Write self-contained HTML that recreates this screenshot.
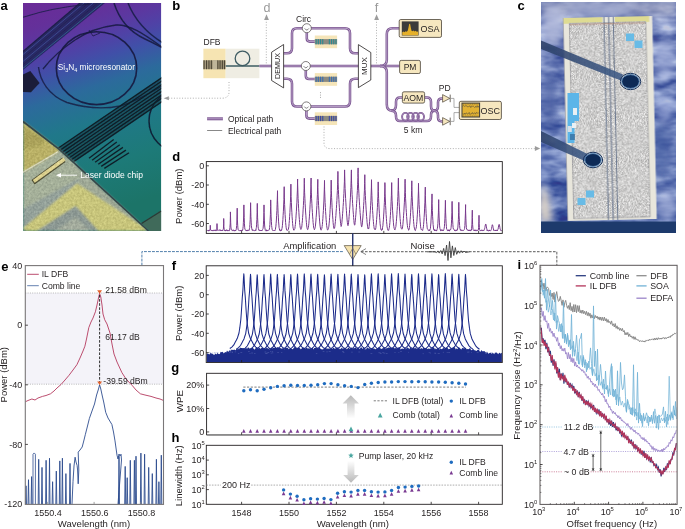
<!DOCTYPE html>
<html><head><meta charset="utf-8"><style>
html,body{margin:0;padding:0;background:#fff;width:685px;height:529px;overflow:hidden}
svg{display:block;font-family:"Liberation Sans",sans-serif}
</style></head><body>
<svg width="685" height="529" viewBox="0 0 685 529">
<defs>
<clipPath id="clipA"><rect x="23" y="3" width="138.3" height="228"/></clipPath>
<linearGradient id="gA" x1="0" y1="0" x2="0.2" y2="1">
 <stop offset="0" stop-color="#6b2b97"/>
 <stop offset="0.12" stop-color="#64309a"/>
 <stop offset="0.2" stop-color="#5b38a0"/>
 <stop offset="0.27" stop-color="#4f42a6"/>
 <stop offset="0.34" stop-color="#4050a8"/>
 <stop offset="0.45" stop-color="#2c6a9c"/>
 <stop offset="0.6" stop-color="#20788a"/>
 <stop offset="0.8" stop-color="#1d7a78"/>
 <stop offset="1" stop-color="#1c7468"/>
</linearGradient>
<filter id="blA" x="-5%" y="-5%" width="110%" height="110%"><feGaussianBlur stdDeviation="0.9"/></filter>
<filter id="blA2"><feGaussianBlur stdDeviation="0.45"/></filter>
<filter id="nzA" x="0" y="0" width="100%" height="100%" color-interpolation-filters="sRGB"><feTurbulence type="fractalNoise" baseFrequency="0.45" numOctaves="2" seed="12"/><feColorMatrix type="matrix" values="1.4 0 0 0 -0.2  1.4 0 0 0 -0.2  1.2 0 0 0 -0.25  0 0 0 0 1"/></filter>
<clipPath id="clipGold"><polygon points="23,121.5 59.3,149.3 148.5,231 23,231"/></clipPath>
<filter id="blA3" x="-20%" y="-20%" width="140%" height="140%"><feGaussianBlur stdDeviation="2.5"/></filter>
</defs>
<g clip-path="url(#clipA)">
<rect x="23.0" y="3.0" width="138.3" height="228.0" fill="url(#gA)" stroke="none" stroke-width="0.8" />
<g filter="url(#blA2)">
<polygon points="80.0,3.0 105.0,3.0 23.0,70.0 23.0,51.0" fill="#20245a" opacity="0.85"/>
<line x1="84.0" y1="3.0" x2="23.0" y2="54.5" stroke="#4a6ab2" stroke-width="0.7" opacity="0.75"/>
<line x1="88.6" y1="3.0" x2="23.0" y2="58.0" stroke="#1c1f48" stroke-width="0.7" opacity="0.75"/>
<line x1="93.2" y1="3.0" x2="23.0" y2="61.4" stroke="#4a6ab2" stroke-width="0.7" opacity="0.75"/>
<line x1="97.8" y1="3.0" x2="23.0" y2="64.8" stroke="#1c1f48" stroke-width="0.7" opacity="0.75"/>
<line x1="102.4" y1="3.0" x2="23.0" y2="68.3" stroke="#3a8aa8" stroke-width="0.7" opacity="0.75"/>
<line x1="80.0" y1="3.0" x2="23.0" y2="51.5" stroke="#1a1d44" stroke-width="1.3" opacity="0.85"/>
<path d="M23,17.3 Q50,8 90,4" stroke="#1c1f4a" stroke-width="1.2" fill="none" opacity="0.85"/>
<ellipse cx="96.5" cy="68.2" rx="40.2" ry="36.4" fill="none" stroke="#15193f" stroke-width="1.6" opacity="0.9"/>
<path d="M114,3 C120,22 132,33 145,39 S158,46 163,48" stroke="#141a40" stroke-width="1.5" fill="none" opacity="0.85"/>
<path d="M128,3 C134,18 145,32 163,43" stroke="#141a40" stroke-width="1.5" fill="none" opacity="0.8"/>
<circle cx="180" cy="121" r="31" fill="none" stroke="#0c1a30" stroke-width="1.5" opacity="0.9"/>
<path d="M43,69 C50,60 60,50 75,40 C88,31 100,27 116,25 C130,24 145,35 162,47" stroke="#15193f" stroke-width="1.4" fill="none" opacity="0.85"/>
<path d="M38.5,67 C40,80 48,95 67,102.5 C85,108 105,109 120,106 C135,102 150,93 162,86" stroke="#15193f" stroke-width="1.4" fill="none" opacity="0.8"/>
<path d="M89,30 L93,36 L100,33" stroke="#15193f" stroke-width="0.9" fill="none" opacity="0.8"/>
<polygon points="23.0,74.4 30.3,71.0 39.6,83.0 31.0,92.3 23.0,92.0" fill="#161a2c" opacity="0.9"/>
<polygon points="58.4,148.0 163.0,76.9 163.0,100.3 73.7,161.6" fill="#102a36" opacity="0.45"/>
<line x1="58.4" y1="148.0" x2="163.0" y2="76.9" stroke="#0e1c26" stroke-width="1.35" />
<line x1="60.6" y1="149.9" x2="163.0" y2="80.3" stroke="#0e1c26" stroke-width="1.35" />
<line x1="62.8" y1="151.9" x2="163.0" y2="83.7" stroke="#0e1c26" stroke-width="1.35" />
<line x1="65.0" y1="153.8" x2="163.0" y2="87.2" stroke="#0e1c26" stroke-width="1.35" />
<line x1="67.2" y1="155.8" x2="163.0" y2="90.6" stroke="#0e1c26" stroke-width="1.35" />
<line x1="69.3" y1="157.7" x2="163.0" y2="94.0" stroke="#0e1c26" stroke-width="1.35" />
<line x1="71.5" y1="159.6" x2="163.0" y2="97.4" stroke="#0e1c26" stroke-width="1.35" />
<line x1="73.7" y1="161.6" x2="163.0" y2="100.9" stroke="#0e1c26" stroke-width="1.35" />
<line x1="89.0" y1="158.2" x2="113.7" y2="139.5" stroke="#0f1e28" stroke-width="1.3" />
<line x1="92.1" y1="160.2" x2="116.8" y2="142.1" stroke="#0f1e28" stroke-width="1.3" />
<line x1="95.1" y1="162.3" x2="119.8" y2="144.8" stroke="#0f1e28" stroke-width="1.3" />
<line x1="98.2" y1="164.3" x2="122.9" y2="147.4" stroke="#0f1e28" stroke-width="1.3" />
<line x1="101.2" y1="166.4" x2="125.9" y2="150.1" stroke="#0f1e28" stroke-width="1.3" />
<line x1="104.3" y1="168.4" x2="129.0" y2="152.7" stroke="#0f1e28" stroke-width="1.3" />
</g>
<g filter="url(#blA)">
<polygon points="23.0,121.5 59.3,149.3 148.5,231.0 23.0,231.0" fill="#a3afa0" />
<polygon points="23.0,121.5 59.3,149.3 57.0,153.0 23.0,172.5" fill="#c3b967" />
<polygon points="23.0,128.0 40.0,136.0 45.0,143.0 23.0,150.0" fill="#a9a056" opacity="0.7"/>
<polygon points="23.0,172.5 57.0,153.0 76.0,163.0 80.0,178.0 23.0,209.0" fill="#abb7a4" />
<polygon points="76.8,183.2 146.6,229.0 145.0,231.0 98.5,231.0 75.6,206.1 36.7,231.0 26.0,231.0 23.0,228.0" fill="#d3d080" />
<polygon points="36.7,231.0 75.6,206.1 98.5,231.0" fill="#8e9c9c" />
<polygon points="55.0,231.0 75.6,217.0 90.0,231.0" fill="#a9b3a8" />
<polygon points="23.0,209.0 80.0,178.0 76.8,183.2 23.0,228.0" fill="#97a6a4" />
</g>
<line x1="23.0" y1="172.3" x2="58.0" y2="151.8" stroke="#e6e6cc" stroke-width="1.3" filter="url(#blA2)"/>
<line x1="33.0" y1="182.3" x2="64.0" y2="159.8" stroke="#4a4a30" stroke-width="5.4" filter="url(#blA2)"/>
<line x1="33.8" y1="181.3" x2="64.6" y2="159.0" stroke="#ecdf98" stroke-width="3.4" filter="url(#blA2)"/>
<g clip-path="url(#clipGold)"><rect x="23" y="120" width="126" height="111" fill="#000" filter="url(#nzA)" opacity="0.14" style="mix-blend-mode:overlay"/></g>
<polygon points="141.5,223.0 161.3,210.5 161.3,231.0 150.0,231.0" fill="#3f6a5a" filter="url(#blA2)"/>
<line x1="141.5" y1="223.5" x2="161.3" y2="211.0" stroke="#2a3a36" stroke-width="1.4" filter="url(#blA2)"/>
<polyline points="23.0,121.5 59.3,149.3 148.5,231.0" stroke="#34464a" stroke-width="1.6" fill="none" filter="url(#blA2)" stroke-linejoin="round"/>
<line x1="59.0" y1="175.2" x2="77.0" y2="175.2" stroke="#fff" stroke-width="0.9" />
<polygon points="56.0,175.2 61.0,173.0 61.0,177.4" fill="#fff" />
</g>
<text x="80.2" y="178.3" font-size="8.55" text-anchor="start" fill="#fff" font-weight="normal" >Laser diode chip</text>
<text x="57.8" y="70.4" font-size="8.3" text-anchor="start" fill="#fff" font-weight="normal" >Si<tspan font-size="5.5" dy="2">3</tspan><tspan dy="-2">N</tspan><tspan font-size="5.5" dy="2">4</tspan><tspan dy="-2"> microresonator</tspan></text>
<text x="0.5" y="9.8" font-size="13" text-anchor="start" fill="#000" font-weight="bold" >a</text>
<defs><clipPath id="clipC"><rect x="541" y="2" width="135" height="231"/></clipPath><linearGradient id="gC" x1="0" y1="0" x2="0" y2="1"><stop offset="0" stop-color="#8790c0"/><stop offset="0.5" stop-color="#687bb8"/><stop offset="1" stop-color="#5d72b0"/></linearGradient><linearGradient id="gN" x1="0" y1="0" x2="1" y2="0"><stop offset="0" stop-color="#2c4068"/><stop offset="1" stop-color="#3d5a86"/></linearGradient><filter id="blC" x="-10%" y="-10%" width="120%" height="120%"><feGaussianBlur stdDeviation="3"/></filter><filter id="nzC" x="0" y="0" width="100%" height="100%" color-interpolation-filters="sRGB"><feTurbulence type="fractalNoise" baseFrequency="1.3" numOctaves="1" seed="5"/><feColorMatrix type="matrix" values="0.72 0 0 0 0.445  0.72 0 0 0 0.443  0.72 0 0 0 0.44  0 0 0 0 1"/></filter><filter id="bgC" x="0" y="0" width="100%" height="100%" color-interpolation-filters="sRGB"><feTurbulence type="fractalNoise" baseFrequency="0.04 0.09" numOctaves="3" seed="8"/><feColorMatrix type="matrix" values="1.6 0 0 0 -0.35  1.5 0 0 0 -0.22  1.0 0 0 0 0.25  0 0 0 0 1"/></filter><filter id="blC2"><feGaussianBlur stdDeviation="0.35"/></filter><filter id="blC3"><feGaussianBlur stdDeviation="0.9"/></filter><pattern id="grain" width="10" height="10" patternUnits="userSpaceOnUse"><rect width="10" height="10" fill="#ccc7c2"/><rect x="0" y="3" width="1" height="1" fill="#a7a29f"/><rect x="0" y="4" width="1" height="1" fill="#e2ded8"/><rect x="0" y="5" width="1" height="1" fill="#a7a29f"/><rect x="0" y="6" width="1" height="1" fill="#a7a29f"/><rect x="0" y="7" width="1" height="1" fill="#a7a29f"/><rect x="0" y="8" width="1" height="1" fill="#a7a29f"/><rect x="1" y="2" width="1" height="1" fill="#e2ded8"/><rect x="1" y="5" width="1" height="1" fill="#e2ded8"/><rect x="1" y="6" width="1" height="1" fill="#a7a29f"/><rect x="1" y="9" width="1" height="1" fill="#a7a29f"/><rect x="2" y="0" width="1" height="1" fill="#a7a29f"/><rect x="2" y="1" width="1" height="1" fill="#a7a29f"/><rect x="2" y="3" width="1" height="1" fill="#a7a29f"/><rect x="2" y="6" width="1" height="1" fill="#a7a29f"/><rect x="3" y="0" width="1" height="1" fill="#a7a29f"/><rect x="3" y="1" width="1" height="1" fill="#e2ded8"/><rect x="3" y="2" width="1" height="1" fill="#e2ded8"/><rect x="3" y="3" width="1" height="1" fill="#a7a29f"/><rect x="3" y="7" width="1" height="1" fill="#a7a29f"/><rect x="4" y="1" width="1" height="1" fill="#e2ded8"/><rect x="4" y="6" width="1" height="1" fill="#e2ded8"/><rect x="5" y="0" width="1" height="1" fill="#e2ded8"/><rect x="5" y="3" width="1" height="1" fill="#a7a29f"/><rect x="5" y="4" width="1" height="1" fill="#a7a29f"/><rect x="5" y="5" width="1" height="1" fill="#e2ded8"/><rect x="5" y="6" width="1" height="1" fill="#a7a29f"/><rect x="6" y="1" width="1" height="1" fill="#e2ded8"/><rect x="6" y="2" width="1" height="1" fill="#a7a29f"/><rect x="6" y="3" width="1" height="1" fill="#a7a29f"/><rect x="6" y="4" width="1" height="1" fill="#e2ded8"/><rect x="6" y="7" width="1" height="1" fill="#a7a29f"/><rect x="6" y="9" width="1" height="1" fill="#a7a29f"/><rect x="7" y="1" width="1" height="1" fill="#a7a29f"/><rect x="7" y="2" width="1" height="1" fill="#a7a29f"/><rect x="7" y="6" width="1" height="1" fill="#e2ded8"/><rect x="7" y="8" width="1" height="1" fill="#e2ded8"/><rect x="7" y="9" width="1" height="1" fill="#a7a29f"/><rect x="8" y="0" width="1" height="1" fill="#e2ded8"/><rect x="8" y="3" width="1" height="1" fill="#a7a29f"/><rect x="8" y="6" width="1" height="1" fill="#e2ded8"/><rect x="8" y="8" width="1" height="1" fill="#e2ded8"/><rect x="8" y="9" width="1" height="1" fill="#a7a29f"/><rect x="9" y="5" width="1" height="1" fill="#e2ded8"/><rect x="9" y="6" width="1" height="1" fill="#e2ded8"/></pattern></defs>
<g clip-path="url(#clipC)">
<rect x="541.0" y="2.0" width="135.0" height="231.0" fill="url(#gC)" stroke="none" stroke-width="0.8" />
<rect x="541.0" y="2.0" width="135.0" height="231.0" fill="#000" stroke="none" stroke-width="0.8" filter="url(#bgC)" opacity="0.5"/>
<g filter="url(#blC)">
<rect x="541.0" y="0.0" width="135.0" height="16.0" fill="#a2a6bf" stroke="none" stroke-width="0.8" opacity="0.55"/>
<ellipse cx="553" cy="25" rx="10" ry="20" fill="#b4bcdc" opacity="0.8"/>
<ellipse cx="600" cy="10" rx="35" ry="7" fill="#a0aad0" opacity="0.6"/>
<ellipse cx="664" cy="60" rx="9" ry="22" fill="#a8b4de" opacity="0.6"/>
<ellipse cx="662" cy="150" rx="10" ry="30" fill="#4a60a4" opacity="0.6"/>
<ellipse cx="550" cy="100" rx="7" ry="30" fill="#4b5fa2" opacity="0.7"/>
<ellipse cx="544" cy="207" rx="5" ry="16" fill="#d6cec6" opacity="0.9"/>
<ellipse cx="666" cy="205" rx="9" ry="15" fill="#b4bee2" opacity="0.6"/>
<ellipse cx="664" cy="110" rx="8" ry="12" fill="#a0aedc" opacity="0.6"/>
<polygon points="541.0,182.0 548.0,194.0 553.0,221.5 541.0,221.5" fill="#d8d0c8" opacity="0.85"/>
</g>
<rect x="541.0" y="221.5" width="135.0" height="11.5" fill="#1d3a6c" stroke="none" stroke-width="0.8" />
<g transform="rotate(-1.3 610 118)">
<g filter="url(#blC2)">
<rect x="565.5" y="17.0" width="89.0" height="203.0" fill="#e8e6dc" stroke="none" stroke-width="0.8" />
<rect x="565.5" y="17.0" width="86.0" height="5.8" fill="#dedb92" stroke="none" stroke-width="0.8" />
<rect x="604.5" y="17.0" width="12.5" height="5.8" fill="#e8e8e0" stroke="none" stroke-width="0.8" />
<rect x="571.5" y="22.8" width="76.5" height="195.0" fill="#000" stroke="none" stroke-width="0.8" filter="url(#nzC)"/>
<rect x="571.5" y="22.8" width="76.5" height="195.0" fill="none" stroke="#8a8a90" stroke-width="0.6" />
<line x1="565.5" y1="17.0" x2="565.5" y2="220.0" stroke="#9a9aa0" stroke-width="0.6" />
<line x1="606.2" y1="17.0" x2="606.2" y2="220.0" stroke="#6d7a92" stroke-width="1.1" />
<line x1="610.9" y1="17.0" x2="610.9" y2="220.0" stroke="#6d7a92" stroke-width="1.1" />
<line x1="615.5" y1="17.0" x2="615.5" y2="220.0" stroke="#6d7a92" stroke-width="1.1" />
<line x1="572.0" y1="23.8" x2="647.0" y2="23.8" stroke="#b27a5e" stroke-width="1" opacity="0.6"/>
</g>
</g>
<g filter="url(#blC2)">
<polygon points="541.0,40.5 541.0,49.0 621.5,80.8 623.0,74.5" fill="url(#gN)" opacity="0.88"/>
<polygon points="541.0,131.0 541.0,142.0 586.0,161.5 587.5,154.0" fill="url(#gN)" opacity="0.88"/>
<ellipse cx="630.5" cy="81.5" rx="10.2" ry="8.2" fill="none" stroke="#1a3560" stroke-width="1.0"/>
<ellipse cx="630.5" cy="81.5" rx="8.8" ry="6.9" fill="#0f2b56" stroke="#5a8cc0" stroke-width="0.9"/>
<ellipse cx="593" cy="160" rx="9.6" ry="7.8" fill="none" stroke="#1a3560" stroke-width="1.0"/>
<ellipse cx="593" cy="160" rx="8.2" ry="6.5" fill="#0f2b56" stroke="#5a8cc0" stroke-width="0.9"/>
<rect x="626.0" y="33.5" width="8.0" height="7.5" fill="#67bbe6" stroke="none" stroke-width="0.8" />
<rect x="634.5" y="40.5" width="8.0" height="7.5" fill="#67bbe6" stroke="none" stroke-width="0.8" />
<rect x="586.0" y="190.5" width="8.0" height="7.0" fill="#67bbe6" stroke="none" stroke-width="0.8" />
<rect x="577.5" y="198.0" width="8.0" height="7.0" fill="#67bbe6" stroke="none" stroke-width="0.8" />
<rect x="567.5" y="93.0" width="11.5" height="28.0" fill="#5cb5e8" stroke="none" stroke-width="0.8" />
<rect x="567.5" y="121.0" width="7.0" height="22.0" fill="#5cb5e8" stroke="none" stroke-width="0.8" />
<rect x="573.0" y="108.0" width="4.0" height="7.0" fill="#eaf0f4" stroke="none" stroke-width="0.8" />
<rect x="572.0" y="123.0" width="4.0" height="5.0" fill="#eaf0f4" stroke="none" stroke-width="0.8" />
<rect x="567.8" y="126.0" width="4.0" height="6.0" fill="#d4e0ea" stroke="none" stroke-width="0.8" />
<rect x="570.0" y="134.0" width="5.0" height="6.0" fill="#2a5a8a" stroke="none" stroke-width="0.8" opacity="0.6"/>
</g>
</g>
<text x="517.5" y="9.8" font-size="13" text-anchor="start" fill="#000" font-weight="bold" >c</text>
<text x="172.3" y="9.8" font-size="13" text-anchor="start" fill="#000" font-weight="bold" >b</text>
<path d="M229,82 V92 Q229,98.2 222,98.2 H168.5" stroke="#9c9c9c" stroke-width="0.8" fill="none" stroke-dasharray="1 1.7"/>
<polygon points="163.6,98.2 168.9,96.2 168.9,100.2" fill="#9c9c9c" />
<path d="M324,126.5 V143 Q324,148.6 330,148.6 H535" stroke="#9c9c9c" stroke-width="0.8" fill="none" stroke-dasharray="1 1.7"/>
<polygon points="540.2,148.6 534.9,146.1 534.9,151.1" fill="#9c9c9c" />
<path d="M266.3,66 V20" stroke="#9c9c9c" stroke-width="0.8" fill="none" stroke-dasharray="1 1.7"/>
<polygon points="266.5,14.2 264.1,19.9 268.9,19.9" fill="#9c9c9c" />
<text x="266.9" y="11.9" font-size="12.5" text-anchor="middle" fill="#9a9a9a" font-weight="normal" >d</text>
<path d="M376.5,66 V20" stroke="#9c9c9c" stroke-width="0.8" fill="none" stroke-dasharray="1 1.7"/>
<polygon points="376.6,14.2 374.2,19.9 379.0,19.9" fill="#9c9c9c" />
<text x="376.6" y="11.9" font-size="12.8" text-anchor="middle" fill="#9a9a9a" font-weight="normal" >f</text>
<text x="203.5" y="45.3" font-size="8.5" text-anchor="start" fill="#231f20" font-weight="normal" >DFB</text>
<rect x="203.4" y="48.7" width="22.3" height="29.5" fill="#f6e4b2" stroke="none" stroke-width="0.8" />
<rect x="225.7" y="48.7" width="33.7" height="29.5" fill="#efede3" stroke="none" stroke-width="0.8" />
<rect x="203.4" y="60.3" width="22.3" height="8.9" fill="#a59a7e" stroke="none" stroke-width="0.8" />
<rect x="212.8" y="60.3" width="4.6" height="8.9" fill="#bfb59a" stroke="none" stroke-width="0.8" />
<rect x="203.5" y="60.3" width="1.1" height="8.9" fill="#4c4434" stroke="none" stroke-width="0.8" />
<rect x="206.0" y="60.3" width="1.1" height="8.9" fill="#4c4434" stroke="none" stroke-width="0.8" />
<rect x="208.4" y="60.3" width="1.1" height="8.9" fill="#4c4434" stroke="none" stroke-width="0.8" />
<rect x="210.8" y="60.3" width="1.1" height="8.9" fill="#4c4434" stroke="none" stroke-width="0.8" />
<rect x="217.3" y="60.3" width="1.1" height="8.9" fill="#4c4434" stroke="none" stroke-width="0.8" />
<rect x="219.5" y="60.3" width="1.1" height="8.9" fill="#4c4434" stroke="none" stroke-width="0.8" />
<rect x="221.8" y="60.3" width="1.1" height="8.9" fill="#4c4434" stroke="none" stroke-width="0.8" />
<rect x="223.9" y="60.3" width="1.1" height="8.9" fill="#4c4434" stroke="none" stroke-width="0.8" />
<circle cx="242.5" cy="58.4" r="7.3" fill="none" stroke="#3d5b62" stroke-width="1.3"/>
<line x1="225.7" y1="66.0" x2="259.4" y2="66.0" stroke="#3d5b62" stroke-width="1.3" />
<path d="M259.4,66 H271.6" stroke="#7a5590" stroke-width="2.55" fill="none" stroke-linejoin="round"/>
<path d="M259.4,66 H271.6" stroke="#bea6ce" stroke-width="0.95" fill="none" stroke-linejoin="round"/>
<path d="M283.6,66 H358.4" stroke="#7a5590" stroke-width="2.55" fill="none" stroke-linejoin="round"/>
<path d="M283.6,66 H358.4" stroke="#bea6ce" stroke-width="0.95" fill="none" stroke-linejoin="round"/>
<path d="M283.6,53.3 H287 Q292,53.3 292,48.3 V33.2 Q292,28.2 297,28.2 H345 Q350,28.2 350,33.2 V48.3 Q350,53.3 355,53.3 H358.4" stroke="#7a5590" stroke-width="2.55" fill="none" stroke-linejoin="round"/>
<path d="M283.6,53.3 H287 Q292,53.3 292,48.3 V33.2 Q292,28.2 297,28.2 H345 Q350,28.2 350,33.2 V48.3 Q350,53.3 355,53.3 H358.4" stroke="#bea6ce" stroke-width="0.95" fill="none" stroke-linejoin="round"/>
<path d="M283.6,78.7 H287 Q292,78.7 292,83.7 V101.4 Q292,106.4 297,106.4 H345 Q350,106.4 350,101.4 V83.7 Q350,78.7 355,78.7 H358.4" stroke="#7a5590" stroke-width="2.55" fill="none" stroke-linejoin="round"/>
<path d="M283.6,78.7 H287 Q292,78.7 292,83.7 V101.4 Q292,106.4 297,106.4 H345 Q350,106.4 350,101.4 V83.7 Q350,78.7 355,78.7 H358.4" stroke="#bea6ce" stroke-width="0.95" fill="none" stroke-linejoin="round"/>
<path d="M306.8,30 V38.5 Q306.8,41.6 310,41.6 H315" stroke="#7a5590" stroke-width="2.55" fill="none" stroke-linejoin="round"/>
<path d="M306.8,30 V38.5 Q306.8,41.6 310,41.6 H315" stroke="#bea6ce" stroke-width="0.95" fill="none" stroke-linejoin="round"/>
<path d="M305.8,68 V76 Q305.8,79 309,79 H315" stroke="#7a5590" stroke-width="2.55" fill="none" stroke-linejoin="round"/>
<path d="M305.8,68 V76 Q305.8,79 309,79 H315" stroke="#bea6ce" stroke-width="0.95" fill="none" stroke-linejoin="round"/>
<path d="M306.4,108 V115.5 Q306.4,118.6 309.5,118.6 H315" stroke="#7a5590" stroke-width="2.55" fill="none" stroke-linejoin="round"/>
<path d="M306.4,108 V115.5 Q306.4,118.6 309.5,118.6 H315" stroke="#bea6ce" stroke-width="0.95" fill="none" stroke-linejoin="round"/>
<path d="M370.8,66 H399.6" stroke="#7a5590" stroke-width="2.55" fill="none" stroke-linejoin="round"/>
<path d="M370.8,66 H399.6" stroke="#bea6ce" stroke-width="0.95" fill="none" stroke-linejoin="round"/>
<path d="M380,66 Q386.8,66 386.8,60 V34 Q386.8,28.2 392.5,28.2 H399.4" stroke="#7a5590" stroke-width="2.55" fill="none" stroke-linejoin="round"/>
<path d="M380,66 Q386.8,66 386.8,60 V34 Q386.8,28.2 392.5,28.2 H399.4" stroke="#bea6ce" stroke-width="0.95" fill="none" stroke-linejoin="round"/>
<path d="M380,66 Q386.8,66 386.8,72 V104.5 Q386.8,110.8 392.5,110.8 H393" stroke="#7a5590" stroke-width="2.55" fill="none" stroke-linejoin="round"/>
<path d="M380,66 Q386.8,66 386.8,72 V104.5 Q386.8,110.8 392.5,110.8 H393" stroke="#bea6ce" stroke-width="0.95" fill="none" stroke-linejoin="round"/>
<path d="M391,110.8 Q396,110.8 396,105 V102 Q396,97.5 400,97.5 H402.6" stroke="#7a5590" stroke-width="2.55" fill="none" stroke-linejoin="round"/>
<path d="M391,110.8 Q396,110.8 396,105 V102 Q396,97.5 400,97.5 H402.6" stroke="#bea6ce" stroke-width="0.95" fill="none" stroke-linejoin="round"/>
<path d="M391,110.8 Q396,110.8 396,115.5 V116.5 Q396,121 400,121 H427 Q431,121 431,116.5 V115 Q431,110.8 435,110.8" stroke="#7a5590" stroke-width="2.55" fill="none" stroke-linejoin="round"/>
<path d="M391,110.8 Q396,110.8 396,115.5 V116.5 Q396,121 400,121 H427 Q431,121 431,116.5 V115 Q431,110.8 435,110.8" stroke="#bea6ce" stroke-width="0.95" fill="none" stroke-linejoin="round"/>
<path d="M424.5,97.5 H427 Q431,97.5 431,102 V106 Q431,110.8 435,110.8" stroke="#7a5590" stroke-width="2.55" fill="none" stroke-linejoin="round"/>
<path d="M424.5,97.5 H427 Q431,97.5 431,102 V106 Q431,110.8 435,110.8" stroke="#bea6ce" stroke-width="0.95" fill="none" stroke-linejoin="round"/>
<path d="M434,110.8 Q438,110.8 438,106 V102.5 Q438,98.4 442,98.4 H443" stroke="#7a5590" stroke-width="2.55" fill="none" stroke-linejoin="round"/>
<path d="M434,110.8 Q438,110.8 438,106 V102.5 Q438,98.4 442,98.4 H443" stroke="#bea6ce" stroke-width="0.95" fill="none" stroke-linejoin="round"/>
<path d="M434,110.8 Q438,110.8 438,115.5 V117.5 Q438,121.4 442,121.4 H443" stroke="#7a5590" stroke-width="2.55" fill="none" stroke-linejoin="round"/>
<path d="M434,110.8 Q438,110.8 438,115.5 V117.5 Q438,121.4 442,121.4 H443" stroke="#bea6ce" stroke-width="0.95" fill="none" stroke-linejoin="round"/>
<ellipse cx="405.4" cy="116.8" rx="3.3" ry="3.9" fill="none" stroke="#7a5590" stroke-width="1.9"/>
<ellipse cx="405.4" cy="116.8" rx="3.3" ry="3.9" fill="none" stroke="#bea6ce" stroke-width="0.5"/>
<ellipse cx="410.5" cy="116.8" rx="3.3" ry="3.9" fill="none" stroke="#7a5590" stroke-width="1.9"/>
<ellipse cx="410.5" cy="116.8" rx="3.3" ry="3.9" fill="none" stroke="#bea6ce" stroke-width="0.5"/>
<ellipse cx="415.6" cy="116.8" rx="3.3" ry="3.9" fill="none" stroke="#7a5590" stroke-width="1.9"/>
<ellipse cx="415.6" cy="116.8" rx="3.3" ry="3.9" fill="none" stroke="#bea6ce" stroke-width="0.5"/>
<ellipse cx="420.7" cy="116.8" rx="3.3" ry="3.9" fill="none" stroke="#7a5590" stroke-width="1.9"/>
<ellipse cx="420.7" cy="116.8" rx="3.3" ry="3.9" fill="none" stroke="#bea6ce" stroke-width="0.5"/>
<polygon points="271.6,52.2 283.6,44.5 283.6,87.9 271.6,80.5" fill="#fff" stroke="#231f20" stroke-width="0.8"/>
<text x="0.0" y="0.0" font-size="7.2" text-anchor="middle" fill="#231f20" font-weight="normal" transform="translate(280.4,66) rotate(-90)">DEMUX</text>
<polygon points="358.4,44.6 370.8,52.5 370.8,80.0 358.4,87.6" fill="#fff" stroke="#231f20" stroke-width="0.8"/>
<text x="0.0" y="0.0" font-size="8" text-anchor="middle" fill="#231f20" font-weight="normal" transform="translate(367.3,66) rotate(-90)">MUX</text>
<circle cx="306.8" cy="28.2" r="4.5" fill="#fff" stroke="#4a4545" stroke-width="0.7"/>
<path d="M304.7,28.4 Q306.8,31.6 308.9,28.4" stroke="#444" stroke-width="0.65" fill="none" />
<circle cx="305.8" cy="66" r="4.5" fill="#fff" stroke="#4a4545" stroke-width="0.7"/>
<path d="M303.7,66.2 Q305.8,69.4 307.9,66.2" stroke="#444" stroke-width="0.65" fill="none" />
<circle cx="306.4" cy="106.4" r="4.5" fill="#fff" stroke="#4a4545" stroke-width="0.7"/>
<path d="M304.3,106.6 Q306.4,109.8 308.5,106.6" stroke="#444" stroke-width="0.65" fill="none" />
<text x="296.0" y="21.9" font-size="8.5" text-anchor="start" fill="#231f20" font-weight="normal" >Circ</text>
<rect x="314.8" y="35.5" width="22.3" height="12.7" fill="#f5e5b9" stroke="none" stroke-width="0.8" />
<rect x="314.8" y="39.1" width="22.3" height="5.2" fill="#8c8a80" stroke="none" stroke-width="0.8" />
<rect x="315.6" y="39.1" width="1.1" height="5.2" fill="#2d8a8f" stroke="none" stroke-width="0.8" />
<rect x="317.8" y="39.1" width="1.1" height="5.2" fill="#2d8a8f" stroke="none" stroke-width="0.8" />
<rect x="320.0" y="39.1" width="1.1" height="5.2" fill="#2d8a8f" stroke="none" stroke-width="0.8" />
<rect x="322.2" y="39.1" width="1.1" height="5.2" fill="#2d8a8f" stroke="none" stroke-width="0.8" />
<rect x="328.8" y="39.1" width="1.1" height="5.2" fill="#2d8a8f" stroke="none" stroke-width="0.8" />
<rect x="331.0" y="39.1" width="1.1" height="5.2" fill="#2d8a8f" stroke="none" stroke-width="0.8" />
<rect x="333.2" y="39.1" width="1.1" height="5.2" fill="#2d8a8f" stroke="none" stroke-width="0.8" />
<rect x="335.4" y="39.1" width="1.1" height="5.2" fill="#2d8a8f" stroke="none" stroke-width="0.8" />
<rect x="314.8" y="73.1" width="22.3" height="12.7" fill="#f5e5b9" stroke="none" stroke-width="0.8" />
<rect x="314.8" y="76.7" width="22.3" height="5.2" fill="#8c8a80" stroke="none" stroke-width="0.8" />
<rect x="315.6" y="76.7" width="1.1" height="5.2" fill="#3c6fae" stroke="none" stroke-width="0.8" />
<rect x="317.8" y="76.7" width="1.1" height="5.2" fill="#3c6fae" stroke="none" stroke-width="0.8" />
<rect x="320.0" y="76.7" width="1.1" height="5.2" fill="#3c6fae" stroke="none" stroke-width="0.8" />
<rect x="322.2" y="76.7" width="1.1" height="5.2" fill="#3c6fae" stroke="none" stroke-width="0.8" />
<rect x="328.8" y="76.7" width="1.1" height="5.2" fill="#3c6fae" stroke="none" stroke-width="0.8" />
<rect x="331.0" y="76.7" width="1.1" height="5.2" fill="#3c6fae" stroke="none" stroke-width="0.8" />
<rect x="333.2" y="76.7" width="1.1" height="5.2" fill="#3c6fae" stroke="none" stroke-width="0.8" />
<rect x="335.4" y="76.7" width="1.1" height="5.2" fill="#3c6fae" stroke="none" stroke-width="0.8" />
<rect x="314.8" y="112.3" width="22.3" height="12.7" fill="#f5e5b9" stroke="none" stroke-width="0.8" />
<rect x="314.8" y="115.9" width="22.3" height="5.2" fill="#8c8a80" stroke="none" stroke-width="0.8" />
<rect x="315.6" y="115.9" width="1.1" height="5.2" fill="#3e4aa0" stroke="none" stroke-width="0.8" />
<rect x="317.8" y="115.9" width="1.1" height="5.2" fill="#3e4aa0" stroke="none" stroke-width="0.8" />
<rect x="320.0" y="115.9" width="1.1" height="5.2" fill="#3e4aa0" stroke="none" stroke-width="0.8" />
<rect x="322.2" y="115.9" width="1.1" height="5.2" fill="#3e4aa0" stroke="none" stroke-width="0.8" />
<rect x="328.8" y="115.9" width="1.1" height="5.2" fill="#3e4aa0" stroke="none" stroke-width="0.8" />
<rect x="331.0" y="115.9" width="1.1" height="5.2" fill="#3e4aa0" stroke="none" stroke-width="0.8" />
<rect x="333.2" y="115.9" width="1.1" height="5.2" fill="#3e4aa0" stroke="none" stroke-width="0.8" />
<rect x="335.4" y="115.9" width="1.1" height="5.2" fill="#3e4aa0" stroke="none" stroke-width="0.8" />
<circle cx="320.4" cy="92.8" r="0.45" fill="#555"/>
<circle cx="320.4" cy="95" r="0.45" fill="#555"/>
<circle cx="320.4" cy="97.2" r="0.45" fill="#555"/>
<rect x="399.2" y="19.5" width="42.3" height="17.9" fill="#f6e7bf" stroke="#4a4237" stroke-width="0.8" rx="1.6"/>
<rect x="401.8" y="21.4" width="16.8" height="14.1" fill="#3d3c3a" stroke="none" stroke-width="0.8" />
<polygon points="402.3,35.3 402.3,32.2 403.5,31.6 404.5,32.3 405.5,31.2 406.8,31.8 407.8,30.6 408.6,27.0 409.2,24.0 410.1,23.8 410.8,27.5 411.5,30.8 412.5,31.2 413.5,30.4 414.5,31.5 415.6,30.8 416.8,31.8 418.2,31.4 418.2,35.3" fill="#e5b02a" />
<text x="420.4" y="32.2" font-size="9" text-anchor="start" fill="#231f20" font-weight="normal" >OSA</text>
<rect x="399.6" y="60.4" width="20.8" height="13.1" fill="#f6e7bf" stroke="#4a4237" stroke-width="0.8" rx="1.6"/>
<text x="410.0" y="70.0" font-size="8.5" text-anchor="middle" fill="#231f20" font-weight="normal" >PM</text>
<rect x="402.4" y="91.8" width="22.2" height="11.3" fill="#f6e7bf" stroke="#4a4237" stroke-width="0.8" rx="1.6"/>
<text x="413.3" y="101.0" font-size="8.7" text-anchor="middle" fill="#231f20" font-weight="normal" >AOM</text>
<text x="403.8" y="132.7" font-size="8.5" text-anchor="start" fill="#231f20" font-weight="normal" >5 km</text>
<text x="438.8" y="91.4" font-size="8.5" text-anchor="start" fill="#231f20" font-weight="normal" >PD</text>
<polygon points="442.6,94.6 449.8,98.4 442.6,102.2" fill="#f6e7bf" stroke="#4a4237" stroke-width="0.7"/>
<line x1="450.2" y1="94.6" x2="450.2" y2="102.2" stroke="#4a4237" stroke-width="0.8" />
<polygon points="442.6,117.6 449.8,121.4 442.6,125.2" fill="#f6e7bf" stroke="#4a4237" stroke-width="0.7"/>
<line x1="450.2" y1="117.6" x2="450.2" y2="125.2" stroke="#4a4237" stroke-width="0.8" />
<path d="M450.5,98.4 H454 V107.4 H459.3" stroke="#8a8a8a" stroke-width="0.7" fill="none" />
<path d="M450.5,121.4 H454 V112.6 H459.3" stroke="#8a8a8a" stroke-width="0.7" fill="none" />
<rect x="459.3" y="101.3" width="42.1" height="18.2" fill="#f6e7bf" stroke="#4a4237" stroke-width="0.8" rx="1.6"/>
<rect x="462.0" y="103.1" width="17.6" height="13.9" fill="#e2b233" stroke="#3d3c3a" stroke-width="1.0" />
<line x1="463.5" y1="103.6" x2="463.5" y2="104.6" stroke="#3d3c3a" stroke-width="0.4" />
<line x1="463.5" y1="115.5" x2="463.5" y2="116.5" stroke="#3d3c3a" stroke-width="0.4" />
<line x1="465.3" y1="103.6" x2="465.3" y2="104.6" stroke="#3d3c3a" stroke-width="0.4" />
<line x1="465.3" y1="115.5" x2="465.3" y2="116.5" stroke="#3d3c3a" stroke-width="0.4" />
<line x1="467.1" y1="103.6" x2="467.1" y2="104.6" stroke="#3d3c3a" stroke-width="0.4" />
<line x1="467.1" y1="115.5" x2="467.1" y2="116.5" stroke="#3d3c3a" stroke-width="0.4" />
<line x1="468.9" y1="103.6" x2="468.9" y2="104.6" stroke="#3d3c3a" stroke-width="0.4" />
<line x1="468.9" y1="115.5" x2="468.9" y2="116.5" stroke="#3d3c3a" stroke-width="0.4" />
<line x1="470.7" y1="103.6" x2="470.7" y2="104.6" stroke="#3d3c3a" stroke-width="0.4" />
<line x1="470.7" y1="115.5" x2="470.7" y2="116.5" stroke="#3d3c3a" stroke-width="0.4" />
<line x1="472.5" y1="103.6" x2="472.5" y2="104.6" stroke="#3d3c3a" stroke-width="0.4" />
<line x1="472.5" y1="115.5" x2="472.5" y2="116.5" stroke="#3d3c3a" stroke-width="0.4" />
<line x1="474.3" y1="103.6" x2="474.3" y2="104.6" stroke="#3d3c3a" stroke-width="0.4" />
<line x1="474.3" y1="115.5" x2="474.3" y2="116.5" stroke="#3d3c3a" stroke-width="0.4" />
<line x1="476.1" y1="103.6" x2="476.1" y2="104.6" stroke="#3d3c3a" stroke-width="0.4" />
<line x1="476.1" y1="115.5" x2="476.1" y2="116.5" stroke="#3d3c3a" stroke-width="0.4" />
<line x1="477.9" y1="103.6" x2="477.9" y2="104.6" stroke="#3d3c3a" stroke-width="0.4" />
<line x1="477.9" y1="115.5" x2="477.9" y2="116.5" stroke="#3d3c3a" stroke-width="0.4" />
<polyline points="462.8,106.5 463.6,105.5 464.4,106.4 465.2,105.8 466.0,106.0 466.8,105.8 467.6,107.0 468.4,106.7 469.2,106.4 470.0,105.7 470.8,107.6 471.6,105.9 472.4,106.3 473.2,106.0 474.0,106.8 474.8,107.6 475.6,106.3 476.4,107.3 477.2,105.6 478.0,107.4 478.8,106.0" stroke="#3d3c3a" stroke-width="0.5" fill="none" />
<polyline points="462.8,113.5 463.6,114.4 464.4,113.1 465.2,114.4 466.0,112.9 466.8,113.0 467.6,114.3 468.4,113.6 469.2,112.4 470.0,114.6 470.8,113.7 471.6,113.9 472.4,112.5 473.2,114.1 474.0,113.4 474.8,112.8 475.6,114.2 476.4,112.4 477.2,113.0 478.0,113.2 478.8,112.8" stroke="#3d3c3a" stroke-width="0.5" fill="none" />
<text x="480.6" y="113.6" font-size="9" text-anchor="start" fill="#231f20" font-weight="normal" >OSC</text>
<line x1="207.1" y1="118.8" x2="222.9" y2="118.8" stroke="#7a5590" stroke-width="3.0" />
<line x1="207.1" y1="118.8" x2="222.9" y2="118.8" stroke="#bea6ce" stroke-width="0.9" />
<text x="227.9" y="121.8" font-size="8.5" text-anchor="start" fill="#231f20" font-weight="normal" >Optical path</text>
<line x1="207.1" y1="130.5" x2="222.2" y2="130.5" stroke="#555" stroke-width="0.7" />
<text x="227.9" y="133.6" font-size="8.5" text-anchor="start" fill="#231f20" font-weight="normal" >Electrical path</text>
<text x="172.3" y="161.0" font-size="13" text-anchor="start" fill="#000" font-weight="bold" >d</text>
<polyline points="206.9,230.8 207.2,230.4 207.4,230.6 207.7,230.3 207.9,230.3 208.2,231.0 208.4,231.1 208.7,230.0 208.9,230.8 209.2,230.8 209.4,229.8 209.7,230.4 209.9,229.8 210.2,229.4 210.3,225.3 210.4,229.2 210.7,230.0 210.9,229.9 211.2,230.4 211.4,230.1 211.7,230.2 211.9,231.0 212.2,230.1 212.4,230.3 212.7,230.7 212.9,231.1 213.2,230.0 213.4,230.5 213.7,230.2 213.9,229.9 214.2,230.2 214.4,229.9 214.7,230.6 214.9,230.0 215.2,230.5 215.4,229.9 215.7,229.9 215.9,231.0 216.2,230.9 216.4,230.7 216.7,229.4 216.9,228.1 217.0,223.6 217.2,229.0 217.4,230.1 217.7,230.5 217.9,230.6 218.2,230.3 218.4,230.3 218.7,229.9 218.9,230.2 219.2,229.9 219.4,230.0 219.7,229.8 219.9,230.2 220.2,230.9 220.4,230.0 220.7,229.8 220.9,229.9 221.2,230.4 221.4,230.2 221.7,230.8 221.9,230.0 222.2,230.3 222.4,230.7 222.7,231.0 222.9,229.8 223.2,229.3 223.4,228.9 223.7,223.2 223.7,218.5 223.9,226.7 224.2,229.6 224.4,229.8 224.7,229.9 224.9,231.0 225.2,230.3 225.4,231.1 225.7,230.2 225.9,230.7 226.2,229.9 226.4,229.8 226.7,230.4 226.9,229.8 227.2,230.7 227.4,231.0 227.7,230.3 227.9,231.1 228.2,230.8 228.4,230.6 228.7,230.3 228.9,230.9 229.2,230.9 229.4,229.7 229.7,229.8 229.9,227.6 230.2,223.9 230.4,215.4 230.4,211.9 230.7,222.3 230.9,227.0 231.2,229.2 231.4,230.0 231.7,230.1 231.9,229.8 232.2,230.4 232.4,230.5 232.7,230.1 232.9,230.8 233.2,230.7 233.4,229.8 233.7,230.4 233.9,230.4 234.2,231.1 234.4,230.6 234.7,230.3 234.9,231.1 235.2,230.3 235.4,230.2 235.7,230.9 235.9,230.0 236.2,229.7 236.4,228.2 236.7,225.5 236.9,220.0 237.2,209.1 237.2,208.2 237.4,219.9 237.7,225.2 237.9,227.9 238.2,229.9 238.4,230.2 238.7,230.2 238.9,230.6 239.2,230.6 239.4,230.7 239.7,230.6 239.9,230.3 240.2,230.7 240.4,230.6 240.7,230.1 240.9,231.1 241.2,230.3 241.4,230.1 241.7,230.7 241.9,230.8 242.2,229.9 242.4,230.5 242.7,230.1 242.9,228.7 243.2,226.2 243.4,222.3 243.7,216.0 243.9,204.9 243.9,208.0 244.2,217.6 244.4,223.2 244.7,227.2 244.9,229.1 245.2,229.7 245.4,229.7 245.7,230.4 245.9,230.8 246.2,230.9 246.4,230.4 246.7,230.9 246.9,230.0 247.2,230.0 247.4,230.9 247.7,230.7 247.9,230.0 248.2,230.2 248.4,230.0 248.7,230.5 248.9,230.7 249.2,230.1 249.4,228.8 249.7,227.6 249.9,224.4 250.2,219.6 250.4,212.8 250.6,202.7 250.7,207.7 250.9,216.4 251.2,222.1 251.4,225.8 251.7,228.1 251.9,229.0 252.2,230.2 252.4,229.7 252.7,229.8 252.9,230.8 253.2,230.1 253.4,230.0 253.7,230.2 253.9,230.4 254.2,230.7 254.4,230.7 254.7,230.8 254.9,231.0 255.2,230.3 255.4,230.6 255.7,229.8 255.9,230.4 256.1,228.8 256.4,227.4 256.6,224.2 256.9,219.4 257.1,212.4 257.3,203.4 257.4,209.9 257.6,217.9 257.9,223.3 258.1,226.9 258.4,228.7 258.6,229.7 258.9,230.3 259.1,229.7 259.4,230.2 259.6,230.6 259.9,230.8 260.1,230.0 260.4,230.5 260.6,230.1 260.9,230.6 261.1,230.8 261.4,230.4 261.6,230.0 261.9,230.9 262.1,230.0 262.4,229.7 262.6,229.6 262.9,229.1 263.1,228.3 263.4,224.9 263.6,220.1 263.9,212.8 264.0,204.9 264.1,212.7 264.4,220.1 264.6,225.0 264.9,227.9 265.1,229.1 265.4,230.6 265.6,230.8 265.9,230.9 266.1,230.9 266.4,231.0 266.6,229.8 266.9,230.0 267.1,231.0 267.4,230.4 267.6,230.7 267.9,230.7 268.1,230.6 268.4,230.2 268.6,230.2 268.9,230.3 269.1,230.2 269.4,229.2 269.6,227.6 269.9,224.5 270.1,220.2 270.4,214.6 270.6,206.5 270.7,199.9 270.9,208.9 271.1,216.1 271.4,221.4 271.6,225.4 271.9,227.7 272.1,229.2 272.4,230.0 272.6,230.4 272.9,230.3 273.1,230.1 273.4,230.5 273.6,230.2 273.9,230.5 274.1,230.8 274.4,230.3 274.6,230.1 274.9,230.7 275.1,230.0 275.4,229.4 275.6,228.0 275.9,226.2 276.1,223.7 276.4,220.0 276.6,215.7 276.9,210.7 277.1,204.6 277.4,195.8 277.5,190.7 277.6,200.8 277.9,207.8 278.1,213.3 278.4,217.9 278.6,221.9 278.9,225.1 279.1,227.7 279.4,228.8 279.6,230.2 279.9,230.5 280.1,229.9 280.4,230.9 280.6,230.9 280.9,230.9 281.1,229.8 281.4,230.5 281.6,230.3 281.9,228.7 282.1,228.1 282.4,225.7 282.6,223.1 282.9,219.6 283.1,215.7 283.4,211.2 283.6,206.0 283.9,199.7 284.1,190.0 284.2,186.7 284.4,197.9 284.6,204.6 284.9,210.0 285.1,214.6 285.4,218.8 285.6,222.4 285.9,225.3 286.1,227.2 286.4,229.1 286.6,230.0 286.9,230.3 287.1,230.0 287.4,229.9 287.6,230.3 287.9,230.2 288.1,229.9 288.4,229.3 288.6,228.0 288.9,226.3 289.1,223.6 289.4,220.4 289.6,216.7 289.9,212.6 290.1,208.0 290.4,202.6 290.6,196.1 290.9,184.1 290.9,184.7 291.1,196.3 291.4,202.7 291.6,208.0 291.9,212.7 292.1,216.8 292.4,220.5 292.6,223.5 292.9,226.2 293.1,228.0 293.4,228.9 293.6,230.0 293.9,230.2 294.1,230.3 294.4,229.6 294.6,229.4 294.9,228.5 295.1,226.7 295.4,224.5 295.6,221.9 295.9,218.7 296.1,215.1 296.4,211.2 296.6,207.0 296.9,202.2 297.1,196.8 297.4,190.1 297.6,179.0 297.6,182.5 297.9,192.1 298.1,198.4 298.4,203.6 298.6,208.2 298.9,212.3 299.1,216.1 299.4,219.6 299.6,222.7 299.9,225.3 300.1,227.0 300.4,228.3 300.6,229.2 300.9,229.5 301.1,229.2 301.4,228.5 301.6,227.8 301.9,225.9 302.1,223.5 302.4,220.8 302.6,217.5 302.9,213.9 303.1,209.9 303.4,205.6 303.6,200.8 303.9,195.2 304.1,188.2 304.3,178.2 304.4,183.5 304.6,192.2 304.9,198.3 305.1,203.4 305.4,207.9 305.6,212.0 305.9,215.8 306.1,219.3 306.4,222.4 306.6,224.9 306.9,227.2 307.1,228.7 307.4,228.8 307.6,229.6 307.9,229.4 308.1,228.6 308.4,227.3 308.6,225.8 308.9,223.2 309.1,220.2 309.4,216.9 309.6,213.2 309.9,209.2 310.1,204.8 310.4,199.9 310.6,194.2 310.9,186.9 311.1,178.0 311.1,184.8 311.4,192.9 311.6,198.8 311.9,203.8 312.1,208.3 312.4,212.3 312.6,216.1 312.9,219.5 313.1,222.5 313.4,225.2 313.6,227.0 313.9,228.3 314.1,228.9 314.4,229.8 314.6,229.2 314.9,228.5 315.1,227.8 315.4,226.2 315.6,224.0 315.9,221.0 316.1,217.7 316.4,214.0 316.6,209.9 316.9,205.5 317.1,200.6 317.4,194.7 317.6,187.0 317.8,179.3 317.9,187.4 318.1,195.0 318.4,200.8 318.6,205.7 318.9,210.1 319.1,214.1 319.4,217.8 319.6,221.1 319.9,224.0 320.1,226.2 320.4,228.0 320.6,229.2 320.9,229.9 321.1,230.2 321.4,229.4 321.6,228.9 321.9,228.2 322.1,226.5 322.4,224.4 322.6,221.6 322.9,218.3 323.1,214.5 323.4,210.5 323.6,206.0 323.9,201.0 324.1,195.0 324.4,186.7 324.5,180.4 324.6,189.6 324.9,196.9 325.1,202.5 325.4,207.4 325.6,211.7 325.9,215.7 326.1,219.3 326.4,222.5 326.6,225.3 326.9,227.0 327.1,228.3 327.4,229.7 327.6,230.1 327.9,229.9 328.1,229.3 328.4,228.7 328.6,227.7 328.9,226.2 329.1,223.9 329.4,220.9 329.6,217.5 329.9,213.8 330.1,209.6 330.4,205.1 330.6,200.0 330.9,193.8 331.1,184.9 331.2,180.1 331.4,190.4 331.6,197.4 331.9,202.9 332.1,207.7 332.4,212.0 332.6,215.9 332.9,219.4 333.1,222.5 333.4,225.3 333.6,226.9 333.9,228.3 334.1,228.7 334.4,228.3 334.6,228.0 334.9,226.1 335.1,224.1 335.4,221.6 335.6,218.7 335.9,215.5 336.1,212.1 336.4,208.5 336.6,204.6 336.9,200.4 337.1,195.8 337.4,190.5 337.6,184.2 337.9,174.2 337.9,171.4 338.1,182.8 338.4,189.4 338.6,194.8 338.9,199.6 339.1,203.8 339.4,207.8 339.6,211.5 339.9,214.9 340.1,218.1 340.4,221.1 340.6,223.5 340.9,225.3 341.1,226.5 341.4,225.9 341.6,224.7 341.9,222.5 342.1,219.9 342.4,216.9 342.6,213.7 342.9,210.2 343.1,206.5 343.4,202.6 343.6,198.3 343.9,193.7 344.1,188.3 344.4,181.8 344.6,169.9 344.6,171.3 344.9,182.2 345.1,188.7 345.4,194.0 345.6,198.6 345.9,202.9 346.1,206.8 346.4,210.4 346.6,213.9 346.9,217.1 347.1,220.0 347.4,222.7 347.6,224.8 347.9,225.6 348.1,225.6 348.4,224.4 348.6,222.2 348.9,219.5 349.1,216.5 349.4,213.2 349.6,209.7 349.9,206.0 350.1,202.1 350.4,197.8 350.6,193.0 350.9,187.6 351.1,180.8 351.4,169.9 351.4,173.8 351.6,183.2 351.9,189.4 352.1,194.6 352.4,199.2 352.6,203.4 352.9,207.2 353.1,210.9 353.4,214.3 353.6,217.5 353.9,220.4 354.1,223.0 354.4,224.6 354.6,225.2 354.9,224.6 355.1,222.5 355.4,220.1 355.6,217.3 355.9,214.1 356.1,210.8 356.4,207.3 356.6,203.5 356.9,199.5 357.1,195.2 357.4,190.4 357.6,184.8 357.9,177.7 358.1,167.9 358.1,173.5 358.4,182.1 358.6,188.1 358.9,193.2 359.1,197.7 359.4,201.9 359.6,205.7 359.9,209.3 360.1,212.7 360.4,215.9 360.6,219.0 360.9,221.8 361.1,224.2 361.4,226.0 361.6,226.8 361.9,226.7 362.1,225.3 362.4,222.9 362.6,220.1 362.9,217.0 363.1,213.5 363.4,209.8 363.6,205.8 363.9,201.4 364.1,196.5 364.4,190.8 364.6,183.4 364.8,174.7 364.9,181.7 365.1,189.7 365.4,195.6 365.6,200.6 365.9,205.1 366.1,209.2 366.4,213.0 366.6,216.5 366.9,219.7 367.1,222.7 367.4,225.0 367.6,226.8 367.9,228.0 368.1,229.0 368.4,228.8 368.6,229.0 368.9,228.0 369.1,226.5 369.4,224.0 369.6,221.3 369.9,218.0 370.1,214.3 370.4,210.2 370.6,205.8 370.9,200.8 371.1,195.0 371.4,187.1 371.5,179.7 371.6,188.0 371.9,195.5 372.1,201.3 372.4,206.2 372.6,210.6 372.9,214.6 373.1,218.3 373.4,221.5 373.6,224.3 373.9,226.4 374.1,227.9 374.4,229.2 374.6,229.2 374.9,229.6 375.1,230.0 375.4,229.6 375.6,229.1 375.9,227.5 376.1,225.2 376.4,222.9 376.6,219.6 376.9,215.9 377.1,211.9 377.4,207.4 377.6,202.3 377.9,196.3 378.1,188.0 378.2,181.9 378.4,191.4 378.6,198.5 378.9,204.2 379.1,209.0 379.4,213.3 379.6,217.2 379.9,220.7 380.1,223.7 380.4,226.2 380.6,227.7 380.9,229.0 381.1,230.0 381.4,230.3 381.6,230.5 381.9,229.5 382.1,230.0 382.4,229.3 382.6,227.2 382.9,225.8 383.1,222.9 383.4,219.8 383.6,216.1 383.9,212.0 384.1,207.5 384.4,202.3 384.6,196.2 384.9,187.1 384.9,182.6 385.1,193.1 385.4,200.0 385.6,205.5 385.9,210.3 386.1,214.5 386.4,218.3 386.6,221.7 386.9,224.7 387.1,226.9 387.4,228.4 387.6,229.1 387.9,230.3 388.1,230.2 388.4,230.1 388.6,230.4 388.9,229.4 389.1,228.5 389.4,227.4 389.6,225.3 389.9,222.6 390.1,219.4 390.4,215.6 390.6,211.5 390.9,206.9 391.1,201.6 391.4,195.2 391.6,185.0 391.7,182.6 391.9,194.2 392.1,200.8 392.4,206.1 392.6,210.8 392.9,215.0 393.1,218.8 393.4,222.2 393.6,225.0 393.9,226.8 394.1,228.2 394.4,228.9 394.6,229.8 394.9,229.5 395.1,229.7 395.4,228.5 395.6,227.7 395.9,226.5 396.1,224.0 396.4,221.4 396.6,218.1 396.9,214.5 397.1,210.7 397.4,206.4 397.6,201.7 397.9,196.4 398.1,189.8 398.4,178.1 398.4,180.1 398.6,190.6 398.9,197.0 399.1,202.3 399.4,206.9 399.6,211.1 399.9,215.0 400.1,218.5 400.4,221.7 400.6,224.5 400.9,226.4 401.1,228.0 401.4,228.6 401.6,229.0 401.9,229.1 402.1,229.2 402.4,228.5 402.6,226.9 402.9,224.7 403.1,221.9 403.4,218.7 403.6,215.2 403.9,211.2 404.1,207.0 404.4,202.2 404.6,196.7 404.9,189.9 405.1,179.2 405.1,183.4 405.4,192.6 405.6,198.8 405.9,204.0 406.1,208.6 406.4,212.7 406.6,216.5 406.9,220.0 407.1,223.1 407.4,225.4 407.6,227.4 407.9,228.3 408.1,229.1 408.4,229.2 408.6,230.3 408.9,229.8 409.1,229.1 409.4,227.5 409.6,225.6 409.9,223.0 410.1,219.8 410.4,216.2 410.6,212.3 410.9,208.0 411.1,203.1 411.4,197.5 411.6,190.4 411.8,180.8 411.9,186.7 412.1,195.1 412.4,201.1 412.6,206.2 412.9,210.7 413.1,214.8 413.4,218.5 413.6,221.7 413.9,224.5 414.1,226.8 414.4,228.1 414.6,229.2 414.9,230.0 415.1,230.4 415.4,230.6 415.6,229.6 415.9,228.9 416.1,228.0 416.4,226.8 416.6,224.5 416.9,221.5 417.1,218.1 417.4,214.2 417.6,209.9 417.9,205.0 418.1,199.2 418.4,191.7 418.5,183.3 418.6,190.6 418.9,198.5 419.1,204.3 419.4,209.3 419.6,213.7 419.9,217.7 420.1,221.2 420.4,224.1 420.6,226.8 420.9,228.4 421.1,229.2 421.4,229.9 421.6,229.7 421.9,229.8 422.1,229.7 422.4,230.0 422.6,230.5 422.9,229.3 423.1,228.4 423.4,226.8 423.6,224.4 423.9,221.1 424.1,217.4 424.4,213.0 424.6,208.1 424.9,202.2 425.1,194.3 425.3,187.1 425.4,195.6 425.6,203.1 425.9,208.8 426.1,213.6 426.4,217.9 426.6,221.7 426.9,224.6 427.1,227.2 427.4,228.8 427.6,229.0 427.9,229.4 428.1,230.4 428.4,230.5 428.6,230.7 428.9,230.9 429.1,230.7 429.4,229.7 429.6,230.7 429.9,230.2 430.1,229.6 430.4,228.5 430.6,226.1 430.9,223.0 431.1,219.0 431.4,214.1 431.6,208.1 431.9,199.7 432.0,193.9 432.1,203.6 432.4,210.7 432.6,216.2 432.9,220.7 433.1,224.4 433.4,227.0 433.6,229.1 433.9,229.9 434.1,229.5 434.4,230.7 434.6,229.8 434.9,230.8 435.1,229.8 435.4,230.2 435.6,230.2 435.9,230.9 436.1,231.0 436.4,230.0 436.6,230.7 436.9,230.5 437.1,229.3 437.4,228.3 437.6,227.0 437.9,223.4 438.1,218.9 438.4,212.9 438.6,203.7 438.7,199.6 438.9,210.3 439.1,217.0 439.4,222.1 439.6,225.9 439.9,228.4 440.1,229.6 440.4,229.5 440.6,230.8 440.9,230.8 441.1,229.8 441.4,229.8 441.6,229.8 441.9,230.8 442.1,230.6 442.4,229.8 442.6,230.5 442.9,230.1 443.1,230.6 443.4,230.9 443.6,230.3 443.9,229.4 444.1,228.5 444.4,226.8 444.6,223.6 444.9,218.9 445.1,212.7 445.4,202.1 445.4,200.3 445.6,212.0 445.9,218.4 446.1,223.1 446.4,226.4 446.6,228.9 446.9,229.1 447.1,229.7 447.4,230.7 447.6,230.7 447.9,230.8 448.1,231.0 448.4,229.8 448.6,230.6 448.9,229.9 449.1,231.0 449.4,231.1 449.6,229.9 449.9,230.0 450.1,229.7 450.4,229.9 450.6,229.8 450.9,228.7 451.1,227.4 451.4,223.9 451.6,219.2 451.9,212.8 452.1,201.4 452.1,203.9 452.4,214.0 452.6,220.1 452.9,224.6 453.1,227.6 453.4,229.0 453.6,229.3 453.9,229.6 454.1,229.9 454.4,230.0 454.6,230.7 454.9,229.8 455.1,230.7 455.4,230.9 455.6,230.4 455.9,230.1 456.1,230.6 456.4,230.2 456.6,230.7 456.9,229.7 457.1,230.3 457.4,229.9 457.6,229.0 457.9,227.1 458.1,224.0 458.4,219.4 458.6,212.7 458.8,202.3 458.9,206.9 459.1,215.8 459.4,221.5 459.6,225.5 459.9,228.5 460.1,229.1 460.4,230.2 460.6,229.6 460.9,230.5 461.1,230.8 461.4,230.4 461.6,229.9 461.9,230.5 462.1,229.9 462.4,230.2 462.6,230.6 462.9,230.7 463.1,230.4 463.4,230.5 463.6,230.5 463.9,230.1 464.1,229.6 464.4,229.4 464.6,228.4 464.9,225.5 465.1,220.8 465.4,213.9 465.6,204.6 465.6,210.7 465.9,218.8 466.1,224.1 466.4,227.7 466.6,229.1 466.9,229.4 467.1,230.2 467.4,230.0 467.6,230.0 467.9,230.0 468.1,229.9 468.4,230.5 468.6,230.2 468.9,231.0 469.1,229.9 469.4,230.6 469.6,230.5 469.9,229.9 470.1,230.7 470.4,230.8 470.6,230.0 470.9,230.2 471.1,230.6 471.4,230.1 471.6,228.3 471.9,224.9 472.1,218.2 472.3,210.2 472.4,217.5 472.6,224.4 472.9,228.0 473.1,229.6 473.4,229.9 473.6,230.1 473.9,230.5 474.1,231.0 474.4,229.8 474.6,230.2 474.9,231.0 475.1,230.5 475.4,230.1 475.6,229.8 475.9,231.0 476.1,231.1 476.4,230.5 476.6,230.5 476.9,229.9 477.1,230.0 477.4,230.7 477.6,230.5 477.9,230.2 478.1,229.7 478.4,229.8 478.6,227.6 478.9,221.8 479.0,215.3 479.1,223.4 479.4,227.7 479.6,229.7 479.9,230.1 480.1,230.9 480.4,230.8 480.6,230.5 480.9,230.0 481.1,230.4 481.4,230.7 481.6,229.8 481.9,230.2 482.1,230.4 482.4,230.8 482.6,230.7 482.9,229.9 483.1,230.9 483.4,230.4 483.6,230.3 483.9,230.6 484.1,230.0 484.4,229.5 484.6,228.8 484.9,227.6 485.1,226.2 485.4,224.8 485.6,224.0 485.7,224.0 485.9,224.3 486.1,225.1 486.4,226.9 486.6,228.2 486.9,229.2 487.1,230.7 487.4,229.9 487.6,230.6 487.9,230.8 488.1,230.9 488.4,231.1 488.6,230.4 488.9,230.6 489.1,230.0 489.4,230.0 489.6,231.0 489.9,230.6 490.1,230.6 490.4,230.9 490.6,230.8 490.9,230.7 491.1,229.8 491.4,229.5 491.6,228.3 491.9,226.6 492.1,225.3 492.4,224.7 492.4,224.8 492.6,225.0 492.9,226.2 493.1,227.4 493.4,228.9 493.6,230.3 493.9,230.0 494.1,230.6 494.4,230.4 494.6,230.3 494.9,230.3 495.1,230.5 495.4,231.0 495.6,230.1 495.9,230.0 496.1,230.5 496.4,230.3 496.6,230.8 496.9,229.9 497.1,230.2 497.4,230.8 497.6,229.9 497.9,229.4 498.1,229.2 498.4,227.2 498.6,226.0 498.9,224.9 499.1,224.3 499.2,224.4 499.4,224.7 499.6,225.9 499.9,227.7 500.1,228.9 500.4,229.5 500.6,230.3 500.9,230.4 501.1,230.0 501.4,230.5 501.6,230.5" stroke="#78398c" stroke-width="1.0" fill="none" stroke-linejoin="round"/>
<rect x="206.3" y="161.6" width="296.0" height="71.8" fill="none" stroke="#231f20" stroke-width="0.9" />
<line x1="206.3" y1="165.8" x2="208.9" y2="165.8" stroke="#231f20" stroke-width="0.8" />
<text x="204.2" y="169.0" font-size="9" text-anchor="end" fill="#231f20" font-weight="normal" >0</text>
<line x1="206.3" y1="185.0" x2="208.9" y2="185.0" stroke="#231f20" stroke-width="0.8" />
<text x="204.2" y="188.2" font-size="9" text-anchor="end" fill="#231f20" font-weight="normal" >-20</text>
<line x1="206.3" y1="204.3" x2="208.9" y2="204.3" stroke="#231f20" stroke-width="0.8" />
<text x="204.2" y="207.5" font-size="9" text-anchor="end" fill="#231f20" font-weight="normal" >-40</text>
<line x1="206.3" y1="223.5" x2="208.9" y2="223.5" stroke="#231f20" stroke-width="0.8" />
<text x="204.2" y="226.7" font-size="9" text-anchor="end" fill="#231f20" font-weight="normal" >-60</text>
<line x1="241.6" y1="233.4" x2="241.6" y2="230.9" stroke="#231f20" stroke-width="0.8" />
<line x1="289.0" y1="233.4" x2="289.0" y2="230.9" stroke="#231f20" stroke-width="0.8" />
<line x1="336.4" y1="233.4" x2="336.4" y2="230.9" stroke="#231f20" stroke-width="0.8" />
<line x1="383.8" y1="233.4" x2="383.8" y2="230.9" stroke="#231f20" stroke-width="0.8" />
<line x1="431.2" y1="233.4" x2="431.2" y2="230.9" stroke="#231f20" stroke-width="0.8" />
<line x1="478.6" y1="233.4" x2="478.6" y2="230.9" stroke="#231f20" stroke-width="0.8" />
<text x="0.0" y="0.0" font-size="9.5" text-anchor="middle" fill="#231f20" font-weight="normal" transform="translate(178.6,196.2) rotate(-90)" dominant-baseline="central">Power (dBm)</text>
<line x1="352.7" y1="233.4" x2="352.7" y2="265.8" stroke="#27346f" stroke-width="1.1" />
<path d="M141.9,265.5 V251.6 H344" stroke="#4878a6" stroke-width="0.95" fill="none" stroke-dasharray="2.9 1.1"/>
<path d="M361,251.6 H556.8 V265.3" stroke="#7a7a7a" stroke-width="1.2" fill="none" stroke-dasharray="2.6 1.4"/>
<polygon points="344.2,245.6 361.2,245.6 352.7,259.5" fill="#f5e2ad" stroke="#6b6355" stroke-width="0.8"/>
<line x1="352.7" y1="233.4" x2="352.7" y2="265.8" stroke="#27346f" stroke-width="1.1" />
<path d="M349.6,254 L352.7,248.2 L355.8,254" stroke="#6b6355" stroke-width="0.6" fill="none" />
<path d="M366,248.6 L360.8,251.6 L366,254.6" stroke="#555" stroke-width="0.7" fill="none" />
<text x="283.2" y="248.8" font-size="9.4" text-anchor="start" fill="#231f20" font-weight="normal" >Amplification</text>
<text x="410.4" y="249.4" font-size="9.5" text-anchor="start" fill="#231f20" font-weight="normal" >Noise</text>
<polyline points="427.3,251.8 435.0,251.8 436.4,252.6 437.9,250.9 439.3,253.1 440.8,250.5 442.2,253.9 443.7,248.4 445.1,255.6 446.6,245.1 448.0,260.5 449.5,241.5 450.9,257.8 452.4,245.9 453.8,255.5 455.3,247.6 456.7,254.3 458.2,250.8 459.6,253.2 461.1,250.7 462.5,252.7 464.0,251.0 465.4,252.4 469.5,251.8" stroke="#3c3c3c" stroke-width="0.9" fill="none" stroke-linejoin="miter"/>
<text x="1.2" y="270.5" font-size="13" text-anchor="start" fill="#000" font-weight="bold" >e</text>
<rect x="25.3" y="293.0" width="138.2" height="91.1" fill="#f4f3f9" stroke="none" stroke-width="0.8" />
<line x1="25.3" y1="293.0" x2="163.5" y2="293.0" stroke="#8a8a8a" stroke-width="0.6" stroke-dasharray="1 1.3"/>
<line x1="25.3" y1="384.2" x2="163.5" y2="384.2" stroke="#8a8a8a" stroke-width="0.6" stroke-dasharray="1 1.3"/>
<polyline points="25.5,401.7 28.0,400.5 31.9,399.0 35.0,400.0 38.0,398.0 42.5,396.4 46.0,395.5 50.5,393.8 54.0,391.0 57.0,388.0 61.0,384.5 65.0,380.0 69.0,375.3 73.0,370.0 76.9,364.7 80.0,358.0 83.0,351.0 84.9,346.2 86.5,339.0 88.8,327.6 91.0,322.0 93.0,318.0 95.4,311.8 97.0,305.0 98.5,298.0 99.6,293.4 100.8,297.0 102.0,305.0 103.0,314.0 104.7,319.7 107.0,324.0 110.0,333.0 112.0,344.0 114.0,354.0 117.0,362.0 121.9,372.6 126.0,379.0 132.5,385.8 136.0,390.0 140.4,393.8 145.0,395.0 151.0,396.4 156.0,398.0 160.0,399.0 163.3,400.4" stroke="#b43a5f" stroke-width="0.9" fill="none" />
<polyline points="72.0,504.2 73.0,481.7 74.0,466.0 75.1,457.2 76.0,462.0 77.1,465.4 77.6,470.0 78.2,483.8 78.8,470.0 78.2,452.1 80.0,450.0 82.2,447.0 84.0,440.0 85.3,434.7 87.5,426.0 89.4,418.4 92.0,411.0 94.5,404.0 96.6,395.0 98.5,389.0 99.6,384.8 100.8,389.0 102.3,396.0 103.7,402.0 105.7,412.3 108.0,418.0 111.9,424.5 113.5,432.0 115.0,440.9 117.0,455.2 118.0,459.0 119.0,454.0 120.0,456.0 121.0,454.2 121.5,460.0 118.0,504.0" stroke="#2e4d8f" stroke-width="0.9" fill="none" />
<path d="M28.0,504.4 L28.5,479.7 L29.0,504.4" stroke="#2e4d8f" stroke-width="0.9" fill="none" />
<path d="M31.1,504.4 L31.6,476.6 L32.1,504.4" stroke="#2e4d8f" stroke-width="0.9" fill="none" />
<path d="M33.0,504.4 V454.2 Q34.2,451.7 35.4,454.2 V504.4" stroke="#2e4d8f" stroke-width="0.8" fill="none" />
<path d="M38.2,504.4 L38.7,459.3 L39.2,504.4" stroke="#2e4d8f" stroke-width="0.9" fill="none" />
<path d="M45.6,504.4 L46.1,460.3 L46.6,504.4" stroke="#2e4d8f" stroke-width="0.9" fill="none" />
<path d="M49.0,504.4 L49.5,458.2 L50.0,504.4" stroke="#2e4d8f" stroke-width="0.9" fill="none" />
<path d="M55.8,504.4 L56.3,471.1 L56.8,504.4" stroke="#2e4d8f" stroke-width="0.9" fill="none" />
<path d="M59.3,504.4 L59.8,460.9 L60.3,504.4" stroke="#2e4d8f" stroke-width="0.9" fill="none" />
<path d="M61.9,504.4 L62.4,458.2 L62.9,504.4" stroke="#2e4d8f" stroke-width="0.9" fill="none" />
<path d="M69.5,504.4 L70.0,463.4 L70.5,504.4" stroke="#2e4d8f" stroke-width="0.9" fill="none" />
<path d="M25.5,504.4 L26.0,485.8 L26.5,504.4" stroke="#2e4d8f" stroke-width="0.9" fill="none" />
<path d="M41.5,504.4 L42.0,467.4 L42.5,504.4" stroke="#2e4d8f" stroke-width="0.9" fill="none" />
<path d="M52.1,504.4 L52.6,481.7 L53.1,504.4" stroke="#2e4d8f" stroke-width="0.9" fill="none" />
<path d="M65.4,504.4 L65.9,473.6 L66.4,504.4" stroke="#2e4d8f" stroke-width="0.9" fill="none" />
<path d="M118.5,504.4 L119.0,456.2 L119.5,504.4" stroke="#2e4d8f" stroke-width="0.9" fill="none" />
<path d="M124.7,504.4 L125.2,466.4 L125.7,504.4" stroke="#2e4d8f" stroke-width="0.9" fill="none" />
<path d="M129.8,504.4 L130.3,460.3 L130.8,504.4" stroke="#2e4d8f" stroke-width="0.9" fill="none" />
<path d="M133.9,504.4 L134.4,460.3 L134.9,504.4" stroke="#2e4d8f" stroke-width="0.9" fill="none" />
<path d="M135.5,504.4 L136.0,456.2 L136.5,504.4" stroke="#2e4d8f" stroke-width="0.9" fill="none" />
<path d="M140.4,504.4 L140.9,453.1 L141.4,504.4" stroke="#2e4d8f" stroke-width="0.9" fill="none" />
<path d="M144.1,504.4 L144.6,454.2 L145.1,504.4" stroke="#2e4d8f" stroke-width="0.9" fill="none" />
<path d="M155.9,504.4 L156.4,459.3 L156.9,504.4" stroke="#2e4d8f" stroke-width="0.9" fill="none" />
<path d="M160.8,504.4 L161.3,455.2 L161.8,504.4" stroke="#2e4d8f" stroke-width="0.9" fill="none" />
<path d="M126.7,504.4 L127.2,477.7 L127.7,504.4" stroke="#2e4d8f" stroke-width="0.9" fill="none" />
<path d="M148.2,504.4 L148.7,467.4 L149.2,504.4" stroke="#2e4d8f" stroke-width="0.9" fill="none" />
<path d="M151.8,504.4 L152.3,473.6 L152.8,504.4" stroke="#2e4d8f" stroke-width="0.9" fill="none" />
<path d="M158.4,504.4 L158.9,481.7 L159.4,504.4" stroke="#2e4d8f" stroke-width="0.9" fill="none" />
<line x1="99.6" y1="295.0" x2="99.6" y2="382.2" stroke="#1a1a1a" stroke-width="0.9" stroke-dasharray="2.6 1.5"/>
<polygon points="97.2,290.2 102.0,290.2 99.6,293.8" fill="#e0602a" />
<polygon points="97.2,381.4 102.0,381.4 99.6,385.0" fill="#e0602a" />
<text x="105.3" y="292.8" font-size="8.6" text-anchor="start" fill="#231f20" font-weight="normal" >21.58 dBm</text>
<text x="103.3" y="384.0" font-size="8.6" text-anchor="start" fill="#231f20" font-weight="normal" >-39.59 dBm</text>
<text x="105.3" y="339.6" font-size="8.6" text-anchor="start" fill="#231f20" font-weight="normal" >61.17 dB</text>
<line x1="27.2" y1="274.3" x2="38.8" y2="274.3" stroke="#b43a5f" stroke-width="0.9" />
<text x="41.7" y="277.4" font-size="8.6" text-anchor="start" fill="#231f20" font-weight="normal" >IL DFB</text>
<line x1="27.2" y1="285.7" x2="38.8" y2="285.7" stroke="#5574a8" stroke-width="0.9" />
<text x="41.7" y="288.5" font-size="8.6" text-anchor="start" fill="#231f20" font-weight="normal" >Comb line</text>
<rect x="25.3" y="265.6" width="138.2" height="238.8" fill="none" stroke="#7a7778" stroke-width="1.1" />
<text x="22.2" y="268.8" font-size="9" text-anchor="end" fill="#231f20" font-weight="normal" >40</text>
<line x1="25.3" y1="325.2" x2="27.9" y2="325.2" stroke="#231f20" stroke-width="0.8" />
<text x="22.2" y="328.4" font-size="9" text-anchor="end" fill="#231f20" font-weight="normal" >0</text>
<line x1="25.3" y1="384.8" x2="27.9" y2="384.8" stroke="#231f20" stroke-width="0.8" />
<text x="22.2" y="388.0" font-size="9" text-anchor="end" fill="#231f20" font-weight="normal" >-40</text>
<line x1="25.3" y1="444.4" x2="27.9" y2="444.4" stroke="#231f20" stroke-width="0.8" />
<text x="22.2" y="447.6" font-size="9" text-anchor="end" fill="#231f20" font-weight="normal" >-80</text>
<text x="22.2" y="507.2" font-size="9" text-anchor="end" fill="#231f20" font-weight="normal" >-120</text>
<line x1="47.3" y1="504.4" x2="47.3" y2="501.9" stroke="#888" stroke-width="0.8" />
<text x="47.9" y="515.6" font-size="9" text-anchor="middle" fill="#231f20" font-weight="normal" >1550.4</text>
<line x1="94.1" y1="504.4" x2="94.1" y2="501.9" stroke="#888" stroke-width="0.8" />
<text x="94.7" y="515.6" font-size="9" text-anchor="middle" fill="#231f20" font-weight="normal" >1550.6</text>
<line x1="140.9" y1="504.4" x2="140.9" y2="501.9" stroke="#888" stroke-width="0.8" />
<text x="141.5" y="515.6" font-size="9" text-anchor="middle" fill="#231f20" font-weight="normal" >1550.8</text>
<text x="94.0" y="526.6" font-size="9.55" text-anchor="middle" fill="#231f20" font-weight="normal" >Wavelength (nm)</text>
<text x="0.0" y="0.0" font-size="9.5" text-anchor="middle" fill="#231f20" font-weight="normal" transform="translate(3.6,374.7) rotate(-90)" dominant-baseline="central">Power (dBm)</text>
<text x="171.8" y="269.6" font-size="13" text-anchor="start" fill="#000" font-weight="bold" >f</text>
<defs><clipPath id="clipF"><rect x="206.6" y="266.2" width="295.3" height="95.9"/></clipPath></defs>
<g clip-path="url(#clipF)">
<polygon points="206.2,354.8 207.0,353.5 207.8,353.6 208.6,354.0 209.4,354.6 210.2,353.2 211.0,353.1 211.8,353.8 212.6,353.8 213.4,354.4 214.2,354.9 215.0,353.9 215.8,353.4 216.6,354.5 217.4,352.7 218.2,354.0 219.0,353.8 219.8,354.2 220.6,351.8 221.4,352.3 222.2,351.8 223.0,352.2 223.8,353.4 224.6,352.5 225.4,351.9 226.2,352.6 227.0,350.4 227.8,351.5 228.6,351.8 229.4,350.0 230.2,351.4 231.0,349.3 231.8,350.2 232.6,349.8 233.4,350.1 234.2,349.6 235.0,350.1 235.8,350.3 236.6,348.3 237.4,349.6 238.2,348.3 239.0,349.5 239.8,347.7 240.6,347.8 241.4,348.0 242.2,348.0 243.0,348.3 243.8,348.0 244.6,349.3 245.4,348.5 246.2,347.6 247.0,349.1 247.8,347.4 248.6,347.5 249.4,348.5 250.2,348.6 251.0,348.4 251.8,348.6 252.6,347.2 253.4,348.6 254.2,349.4 255.0,349.2 255.8,347.8 256.6,347.1 257.4,348.3 258.2,348.3 259.0,348.2 259.8,347.7 260.6,348.9 261.4,348.0 262.2,348.1 263.0,348.0 263.8,349.0 264.6,349.0 265.4,348.6 266.2,347.3 267.0,348.6 267.8,348.0 268.6,348.7 269.4,349.2 270.2,349.3 271.0,347.5 271.8,347.6 272.6,348.5 273.4,347.8 274.2,347.9 275.0,347.3 275.8,347.2 276.6,348.5 277.4,347.1 278.2,347.2 279.0,348.0 279.8,347.4 280.6,348.3 281.4,348.5 282.2,348.8 283.0,347.4 283.8,349.0 284.6,349.3 285.4,347.6 286.2,347.6 287.0,348.3 287.8,347.5 288.6,349.3 289.4,348.8 290.2,348.7 291.0,348.4 291.8,349.0 292.6,349.3 293.4,348.6 294.2,347.3 295.0,347.1 295.8,347.7 296.6,348.3 297.4,348.8 298.2,347.2 299.0,348.2 299.8,347.7 300.6,349.3 301.4,348.9 302.2,347.5 303.0,347.6 303.8,347.4 304.6,348.0 305.4,348.4 306.2,348.1 307.0,347.4 307.8,348.7 308.6,348.2 309.4,348.8 310.2,347.6 311.0,349.4 311.8,347.8 312.6,347.2 313.4,349.4 314.2,348.0 315.0,347.9 315.8,347.4 316.6,348.1 317.4,348.8 318.2,348.5 319.0,347.2 319.8,347.3 320.6,349.1 321.4,349.2 322.2,349.2 323.0,349.4 323.8,348.4 324.6,349.1 325.4,347.4 326.2,347.9 327.0,349.1 327.8,348.2 328.6,348.7 329.4,348.3 330.2,348.9 331.0,349.0 331.8,349.0 332.6,348.5 333.4,347.8 334.2,348.1 335.0,349.3 335.8,347.8 336.6,347.4 337.4,347.6 338.2,347.6 339.0,349.4 339.8,348.3 340.6,349.3 341.4,347.6 342.2,349.0 343.0,347.8 343.8,348.8 344.6,347.8 345.4,348.7 346.2,349.3 347.0,348.5 347.8,348.7 348.6,347.3 349.4,348.7 350.2,348.3 351.0,348.1 351.8,347.2 352.6,349.2 353.4,348.0 354.2,348.2 355.0,347.7 355.8,347.2 356.6,348.7 357.4,347.8 358.2,348.2 359.0,348.1 359.8,349.3 360.6,347.5 361.4,347.2 362.2,348.6 363.0,348.7 363.8,347.1 364.6,349.2 365.4,349.2 366.2,349.2 367.0,347.5 367.8,347.7 368.6,348.4 369.4,348.0 370.2,349.4 371.0,347.9 371.8,348.4 372.6,348.2 373.4,348.5 374.2,348.5 375.0,348.9 375.8,349.3 376.6,348.4 377.4,348.8 378.2,347.8 379.0,347.5 379.8,347.7 380.6,348.4 381.4,348.9 382.2,348.5 383.0,348.3 383.8,348.0 384.6,347.2 385.4,349.2 386.2,348.3 387.0,348.3 387.8,347.8 388.6,347.4 389.4,347.6 390.2,348.0 391.0,347.7 391.8,347.9 392.6,347.4 393.4,347.8 394.2,347.8 395.0,348.8 395.8,347.3 396.6,348.5 397.4,348.0 398.2,347.5 399.0,347.2 399.8,347.1 400.6,349.4 401.4,348.7 402.2,348.7 403.0,348.5 403.8,349.1 404.6,348.1 405.4,349.2 406.2,348.7 407.0,347.2 407.8,347.7 408.6,348.3 409.4,349.2 410.2,347.2 411.0,347.8 411.8,348.9 412.6,348.6 413.4,347.9 414.2,347.8 415.0,348.8 415.8,347.2 416.6,348.7 417.4,348.8 418.2,347.5 419.0,349.1 419.8,347.8 420.6,349.0 421.4,348.0 422.2,348.8 423.0,348.5 423.8,347.2 424.6,348.3 425.4,348.4 426.2,348.0 427.0,348.8 427.8,349.0 428.6,348.5 429.4,348.8 430.2,349.0 431.0,347.2 431.8,349.3 432.6,347.5 433.4,347.3 434.2,347.8 435.0,349.4 435.8,348.3 436.6,349.3 437.4,348.0 438.2,347.8 439.0,348.9 439.8,349.4 440.6,348.2 441.4,349.2 442.2,348.7 443.0,348.4 443.8,347.4 444.6,348.6 445.4,349.1 446.2,347.6 447.0,347.5 447.8,348.2 448.6,349.3 449.4,349.0 450.2,348.5 451.0,348.2 451.8,348.9 452.6,347.6 453.4,347.5 454.2,347.3 455.0,347.4 455.8,349.4 456.6,348.2 457.4,349.3 458.2,347.4 459.0,347.8 459.8,347.8 460.6,349.1 461.4,349.5 462.2,347.7 463.0,348.2 463.8,348.2 464.6,348.6 465.4,347.9 466.2,349.0 467.0,349.2 467.8,349.1 468.6,349.3 469.4,348.6 470.2,348.1 471.0,350.0 471.8,350.2 472.6,349.2 473.4,349.0 474.2,350.2 475.0,350.2 475.8,350.8 476.6,351.0 477.4,350.1 478.2,349.8 479.0,350.1 479.8,351.4 480.6,351.7 481.4,350.0 482.2,351.1 483.0,351.6 483.8,351.1 484.6,351.2 485.4,351.9 486.2,353.1 487.0,351.5 487.8,353.1 488.6,353.7 489.4,353.1 490.2,352.8 491.0,352.7 491.8,353.9 492.6,352.7 493.4,353.3 494.2,354.2 495.0,352.6 495.8,352.8 496.6,352.6 497.4,353.2 498.2,354.3 499.0,353.1 499.8,352.8 500.6,353.7 501.4,352.9 502.2,352.8 503.0,354.1 503.3,363.5 206.2,363.5" fill="#1c2c8a" />
<rect x="485.1" y="353.4" width="1.9" height="0.6" fill="#6f7fc0" opacity="0.6"/>
<rect x="209.5" y="352.0" width="1.6" height="0.6" fill="#6f7fc0" opacity="0.6"/>
<rect x="386.0" y="353.0" width="1.6" height="0.6" fill="#6f7fc0" opacity="0.6"/>
<rect x="254.0" y="353.4" width="1.5" height="0.6" fill="#6f7fc0" opacity="0.6"/>
<rect x="467.3" y="351.7" width="2.2" height="0.6" fill="#6f7fc0" opacity="0.6"/>
<rect x="370.5" y="353.0" width="1.8" height="0.6" fill="#6f7fc0" opacity="0.6"/>
<rect x="467.6" y="352.0" width="0.7" height="0.6" fill="#6f7fc0" opacity="0.6"/>
<rect x="326.3" y="351.6" width="1.5" height="0.6" fill="#6f7fc0" opacity="0.6"/>
<rect x="447.5" y="352.0" width="0.8" height="0.6" fill="#6f7fc0" opacity="0.6"/>
<rect x="214.2" y="352.2" width="1.5" height="0.6" fill="#6f7fc0" opacity="0.6"/>
<rect x="214.0" y="352.8" width="0.9" height="0.6" fill="#6f7fc0" opacity="0.6"/>
<rect x="237.9" y="353.4" width="1.4" height="0.6" fill="#6f7fc0" opacity="0.6"/>
<rect x="471.2" y="352.4" width="0.8" height="0.6" fill="#6f7fc0" opacity="0.6"/>
<rect x="277.3" y="352.2" width="1.6" height="0.6" fill="#6f7fc0" opacity="0.6"/>
<rect x="434.5" y="353.0" width="1.6" height="0.6" fill="#6f7fc0" opacity="0.6"/>
<rect x="281.1" y="352.2" width="1.2" height="0.6" fill="#6f7fc0" opacity="0.6"/>
<rect x="351.2" y="351.8" width="1.5" height="0.6" fill="#6f7fc0" opacity="0.6"/>
<rect x="342.0" y="351.2" width="1.9" height="0.6" fill="#6f7fc0" opacity="0.6"/>
<rect x="379.8" y="353.1" width="1.8" height="0.6" fill="#6f7fc0" opacity="0.6"/>
<rect x="422.6" y="353.5" width="1.2" height="0.6" fill="#6f7fc0" opacity="0.6"/>
<rect x="322.7" y="351.2" width="1.7" height="0.6" fill="#6f7fc0" opacity="0.6"/>
<rect x="378.4" y="352.5" width="2.2" height="0.6" fill="#6f7fc0" opacity="0.6"/>
<rect x="264.5" y="351.7" width="1.8" height="0.6" fill="#6f7fc0" opacity="0.6"/>
<rect x="446.7" y="352.3" width="0.7" height="0.6" fill="#6f7fc0" opacity="0.6"/>
<rect x="315.9" y="353.1" width="1.4" height="0.6" fill="#6f7fc0" opacity="0.6"/>
<rect x="342.8" y="352.1" width="1.6" height="0.6" fill="#6f7fc0" opacity="0.6"/>
<rect x="383.4" y="352.8" width="2.0" height="0.6" fill="#6f7fc0" opacity="0.6"/>
<rect x="428.7" y="352.1" width="1.0" height="0.6" fill="#6f7fc0" opacity="0.6"/>
<rect x="437.7" y="353.1" width="2.1" height="0.6" fill="#6f7fc0" opacity="0.6"/>
<rect x="265.1" y="353.2" width="2.0" height="0.6" fill="#6f7fc0" opacity="0.6"/>
<rect x="229.1" y="351.9" width="1.6" height="0.6" fill="#6f7fc0" opacity="0.6"/>
<rect x="249.5" y="353.2" width="1.0" height="0.6" fill="#6f7fc0" opacity="0.6"/>
<rect x="408.2" y="351.9" width="0.9" height="0.6" fill="#6f7fc0" opacity="0.6"/>
<rect x="267.5" y="352.4" width="1.7" height="0.6" fill="#6f7fc0" opacity="0.6"/>
<rect x="270.7" y="352.8" width="1.1" height="0.6" fill="#6f7fc0" opacity="0.6"/>
<rect x="398.4" y="352.0" width="0.9" height="0.6" fill="#6f7fc0" opacity="0.6"/>
<rect x="248.0" y="351.3" width="1.7" height="0.6" fill="#6f7fc0" opacity="0.6"/>
<rect x="328.7" y="351.4" width="2.0" height="0.6" fill="#6f7fc0" opacity="0.6"/>
<rect x="400.1" y="351.2" width="1.8" height="0.6" fill="#6f7fc0" opacity="0.6"/>
<rect x="382.3" y="352.2" width="1.4" height="0.6" fill="#6f7fc0" opacity="0.6"/>
<rect x="491.1" y="352.1" width="1.6" height="0.6" fill="#6f7fc0" opacity="0.6"/>
<rect x="394.4" y="352.0" width="1.2" height="0.6" fill="#6f7fc0" opacity="0.6"/>
<rect x="429.7" y="352.7" width="1.3" height="0.6" fill="#6f7fc0" opacity="0.6"/>
<rect x="358.3" y="351.7" width="1.9" height="0.6" fill="#6f7fc0" opacity="0.6"/>
<rect x="212.1" y="352.7" width="1.3" height="0.6" fill="#6f7fc0" opacity="0.6"/>
<rect x="271.8" y="352.6" width="1.5" height="0.6" fill="#6f7fc0" opacity="0.6"/>
<rect x="231.9" y="352.3" width="0.9" height="0.6" fill="#6f7fc0" opacity="0.6"/>
<rect x="442.8" y="351.9" width="1.1" height="0.6" fill="#6f7fc0" opacity="0.6"/>
<rect x="270.0" y="351.3" width="0.9" height="0.6" fill="#6f7fc0" opacity="0.6"/>
<rect x="251.1" y="352.7" width="2.0" height="0.6" fill="#6f7fc0" opacity="0.6"/>
<rect x="271.6" y="351.4" width="1.5" height="0.6" fill="#6f7fc0" opacity="0.6"/>
<rect x="240.4" y="352.1" width="1.8" height="0.6" fill="#6f7fc0" opacity="0.6"/>
<rect x="266.4" y="352.8" width="1.5" height="0.6" fill="#6f7fc0" opacity="0.6"/>
<rect x="231.4" y="351.7" width="1.6" height="0.6" fill="#6f7fc0" opacity="0.6"/>
<rect x="234.7" y="351.6" width="1.5" height="0.6" fill="#6f7fc0" opacity="0.6"/>
<rect x="448.4" y="352.4" width="1.7" height="0.6" fill="#6f7fc0" opacity="0.6"/>
<rect x="208.9" y="351.9" width="1.1" height="0.6" fill="#6f7fc0" opacity="0.6"/>
<rect x="476.7" y="352.0" width="1.9" height="0.6" fill="#6f7fc0" opacity="0.6"/>
<rect x="216.4" y="352.4" width="2.0" height="0.6" fill="#6f7fc0" opacity="0.6"/>
<rect x="434.6" y="352.6" width="0.9" height="0.6" fill="#6f7fc0" opacity="0.6"/>
<polyline points="229.8,348.5 231.8,347.1 233.8,344.9 235.3,342.1 236.3,340.2 237.3,338.3 238.2,335.5 239.0,333.0 239.8,327.7 240.3,323.7 240.8,319.8 241.3,313.0 241.7,307.0 242.0,302.2 242.3,297.2 242.5,294.9 242.7,292.6 242.9,290.1 243.1,286.2 243.3,282.0 243.5,277.5 243.7,275.6 243.8,273.7 244.0,275.6 244.1,277.5 244.3,282.0 244.5,286.2 244.7,290.1 244.9,292.6 245.1,294.9 245.3,297.2 245.6,302.2 245.9,307.0 246.3,313.0 246.8,319.8 247.3,323.7 247.8,327.7 248.6,333.0 249.4,335.5 250.3,338.3 251.3,340.2 252.3,342.1 253.8,344.9 255.8,347.1 257.8,348.5" stroke="#1c2b8a" stroke-width="1.05" fill="none" stroke-linejoin="round"/>
<polyline points="236.5,349.1 238.5,347.6 240.5,345.5 242.0,342.7 243.0,340.8 244.0,338.9 244.9,336.0 245.7,333.6 246.5,328.2 247.0,324.3 247.5,320.3 248.0,313.6 248.4,307.5 248.7,302.7 249.0,297.7 249.2,295.4 249.4,293.2 249.6,290.6 249.8,286.7 250.0,282.6 250.2,278.1 250.4,276.1 250.5,274.2 250.7,276.1 250.8,278.1 251.0,282.6 251.2,286.7 251.4,290.6 251.6,293.2 251.8,295.4 252.0,297.7 252.3,302.7 252.6,307.5 253.0,313.6 253.5,320.3 254.0,324.3 254.5,328.2 255.3,333.6 256.1,336.0 257.0,338.9 258.0,340.8 259.0,342.7 260.5,345.5 262.5,347.6 264.5,349.1" stroke="#1c2b8a" stroke-width="1.05" fill="none" stroke-linejoin="round"/>
<polyline points="243.2,349.6 245.2,348.2 247.2,346.0 248.7,343.2 249.7,341.3 250.7,339.4 251.6,336.6 252.4,334.1 253.2,328.8 253.7,324.8 254.2,320.9 254.7,314.1 255.1,308.1 255.4,303.2 255.7,298.2 255.9,295.9 256.1,293.7 256.3,291.1 256.5,287.3 256.7,283.1 256.9,278.6 257.1,276.6 257.2,274.7 257.4,276.6 257.5,278.6 257.7,283.1 257.9,287.3 258.1,291.1 258.3,293.7 258.5,295.9 258.7,298.2 259.0,303.2 259.3,308.1 259.7,314.1 260.2,320.9 260.7,324.8 261.2,328.8 262.0,334.1 262.8,336.6 263.7,339.4 264.7,341.3 265.7,343.2 267.2,346.0 269.2,348.2 271.2,349.6" stroke="#1c2b8a" stroke-width="1.05" fill="none" stroke-linejoin="round"/>
<polyline points="250.0,349.5 252.0,348.0 254.0,345.9 255.5,343.1 256.5,341.2 257.5,339.3 258.4,336.5 259.2,334.0 260.0,328.7 260.5,324.7 261.0,320.8 261.5,314.0 261.9,308.0 262.2,303.1 262.5,298.1 262.7,295.8 262.9,293.6 263.1,291.0 263.3,287.2 263.5,283.0 263.7,278.5 263.8,276.5 264.0,274.6 264.1,276.5 264.3,278.5 264.5,283.0 264.7,287.2 264.9,291.0 265.1,293.6 265.3,295.8 265.5,298.1 265.8,303.1 266.1,308.0 266.5,314.0 267.0,320.8 267.5,324.7 268.0,328.7 268.8,334.0 269.6,336.5 270.5,339.3 271.5,341.2 272.5,343.1 274.0,345.9 276.0,348.0 278.0,349.5" stroke="#1c2b8a" stroke-width="1.05" fill="none" stroke-linejoin="round"/>
<polyline points="256.7,348.9 258.7,347.5 260.7,345.3 262.2,342.5 263.2,340.6 264.2,338.7 265.1,335.9 265.9,333.4 266.7,328.1 267.2,324.1 267.7,320.2 268.2,313.4 268.6,307.4 268.9,302.5 269.2,297.5 269.4,295.3 269.6,293.0 269.8,290.4 270.0,286.6 270.2,282.4 270.4,277.9 270.5,276.0 270.7,274.0 270.8,276.0 271.0,277.9 271.2,282.4 271.4,286.6 271.6,290.4 271.8,293.0 272.0,295.3 272.2,297.5 272.5,302.5 272.8,307.4 273.2,313.4 273.7,320.2 274.2,324.1 274.7,328.1 275.5,333.4 276.3,335.9 277.2,338.7 278.2,340.6 279.2,342.5 280.7,345.3 282.7,347.5 284.7,348.9" stroke="#1c2b8a" stroke-width="1.05" fill="none" stroke-linejoin="round"/>
<polyline points="263.4,349.3 265.4,347.9 267.4,345.7 268.9,342.9 269.9,341.0 270.9,339.1 271.8,336.3 272.6,333.8 273.4,328.5 273.9,324.5 274.4,320.6 274.9,313.8 275.3,307.8 275.6,302.9 275.9,297.9 276.1,295.7 276.3,293.4 276.5,290.8 276.7,287.0 276.9,282.8 277.1,278.3 277.2,276.4 277.4,274.4 277.5,276.4 277.7,278.3 277.9,282.8 278.1,287.0 278.3,290.8 278.5,293.4 278.7,295.7 278.9,297.9 279.2,302.9 279.5,307.8 279.9,313.8 280.4,320.6 280.9,324.5 281.4,328.5 282.2,333.8 283.0,336.3 283.9,339.1 284.9,341.0 285.9,342.9 287.4,345.7 289.4,347.9 291.4,349.3" stroke="#1c2b8a" stroke-width="1.05" fill="none" stroke-linejoin="round"/>
<polyline points="270.1,349.3 272.1,347.9 274.1,345.7 275.6,342.9 276.6,341.0 277.6,339.1 278.5,336.3 279.3,333.8 280.1,328.5 280.6,324.6 281.1,320.6 281.6,313.8 282.0,307.8 282.3,303.0 282.6,298.0 282.8,295.7 283.0,293.4 283.2,290.9 283.4,287.0 283.6,282.8 283.8,278.3 284.0,276.4 284.1,274.5 284.3,276.4 284.4,278.3 284.6,282.8 284.8,287.0 285.0,290.9 285.2,293.4 285.4,295.7 285.6,298.0 285.9,303.0 286.2,307.8 286.6,313.8 287.1,320.6 287.6,324.6 288.1,328.5 288.9,333.8 289.7,336.3 290.6,339.1 291.6,341.0 292.6,342.9 294.1,345.7 296.1,347.9 298.1,349.3" stroke="#1c2b8a" stroke-width="1.05" fill="none" stroke-linejoin="round"/>
<polyline points="276.8,349.5 278.8,348.0 280.8,345.9 282.3,343.1 283.3,341.2 284.3,339.3 285.2,336.5 286.0,334.0 286.8,328.6 287.3,324.7 287.8,320.8 288.3,314.0 288.7,308.0 289.0,303.1 289.3,298.1 289.5,295.8 289.7,293.6 289.9,291.0 290.1,287.2 290.3,283.0 290.5,278.5 290.7,276.5 290.8,274.6 291.0,276.5 291.1,278.5 291.3,283.0 291.5,287.2 291.7,291.0 291.9,293.6 292.1,295.8 292.3,298.1 292.6,303.1 292.9,308.0 293.3,314.0 293.8,320.8 294.3,324.7 294.8,328.6 295.6,334.0 296.4,336.5 297.3,339.3 298.3,341.2 299.3,343.1 300.8,345.9 302.8,348.0 304.8,349.5" stroke="#1c2b8a" stroke-width="1.05" fill="none" stroke-linejoin="round"/>
<polyline points="283.5,348.9 285.5,347.4 287.5,345.3 289.0,342.5 290.0,340.6 291.0,338.7 291.9,335.8 292.7,333.3 293.5,328.0 294.0,324.1 294.5,320.1 295.0,313.3 295.4,307.3 295.7,302.5 296.0,297.5 296.2,295.2 296.4,293.0 296.6,290.4 296.8,286.5 297.0,282.4 297.2,277.9 297.4,275.9 297.5,274.0 297.7,275.9 297.8,277.9 298.0,282.4 298.2,286.5 298.4,290.4 298.6,293.0 298.8,295.2 299.0,297.5 299.3,302.5 299.6,307.3 300.0,313.3 300.5,320.1 301.0,324.1 301.5,328.0 302.3,333.3 303.1,335.8 304.0,338.7 305.0,340.6 306.0,342.5 307.5,345.3 309.5,347.4 311.5,348.9" stroke="#1c2b8a" stroke-width="1.05" fill="none" stroke-linejoin="round"/>
<polyline points="290.3,348.8 292.3,347.3 294.3,345.2 295.8,342.4 296.8,340.5 297.8,338.6 298.7,335.8 299.5,333.3 300.3,327.9 300.8,324.0 301.3,320.1 301.8,313.3 302.2,307.3 302.5,302.4 302.8,297.4 303.0,295.1 303.2,292.9 303.4,290.3 303.6,286.5 303.8,282.3 304.0,277.8 304.1,275.8 304.3,273.9 304.4,275.8 304.6,277.8 304.8,282.3 305.0,286.5 305.2,290.3 305.4,292.9 305.6,295.1 305.8,297.4 306.1,302.4 306.4,307.3 306.8,313.3 307.3,320.1 307.8,324.0 308.3,327.9 309.1,333.3 309.9,335.8 310.8,338.6 311.8,340.5 312.8,342.4 314.3,345.2 316.3,347.3 318.3,348.8" stroke="#1c2b8a" stroke-width="1.05" fill="none" stroke-linejoin="round"/>
<polyline points="297.0,348.8 299.0,347.4 301.0,345.2 302.5,342.5 303.5,340.6 304.5,338.6 305.4,335.8 306.2,333.3 307.0,328.0 307.5,324.1 308.0,320.1 308.5,313.3 308.9,307.3 309.2,302.5 309.5,297.5 309.7,295.2 309.9,293.0 310.1,290.4 310.3,286.5 310.5,282.3 310.7,277.8 310.8,275.9 311.0,274.0 311.1,275.9 311.3,277.8 311.5,282.3 311.7,286.5 311.9,290.4 312.1,293.0 312.3,295.2 312.5,297.5 312.8,302.5 313.1,307.3 313.5,313.3 314.0,320.1 314.5,324.1 315.0,328.0 315.8,333.3 316.6,335.8 317.5,338.6 318.5,340.6 319.5,342.5 321.0,345.2 323.0,347.4 325.0,348.8" stroke="#1c2b8a" stroke-width="1.05" fill="none" stroke-linejoin="round"/>
<polyline points="303.7,349.0 305.7,347.6 307.7,345.4 309.2,342.6 310.2,340.8 311.2,338.8 312.1,336.0 312.9,333.5 313.7,328.2 314.2,324.3 314.7,320.3 315.2,313.5 315.6,307.5 315.9,302.7 316.2,297.7 316.4,295.4 316.6,293.1 316.8,290.6 317.0,286.7 317.2,282.5 317.4,278.0 317.5,276.1 317.7,274.2 317.8,276.1 318.0,278.0 318.2,282.5 318.4,286.7 318.6,290.6 318.8,293.1 319.0,295.4 319.2,297.7 319.5,302.7 319.8,307.5 320.2,313.5 320.7,320.3 321.2,324.3 321.7,328.2 322.5,333.5 323.3,336.0 324.2,338.8 325.2,340.8 326.2,342.6 327.7,345.4 329.7,347.6 331.7,349.0" stroke="#1c2b8a" stroke-width="1.05" fill="none" stroke-linejoin="round"/>
<polyline points="310.4,349.6 312.4,348.1 314.4,346.0 315.9,343.2 316.9,341.3 317.9,339.4 318.8,336.5 319.6,334.0 320.4,328.7 320.9,324.8 321.4,320.8 321.9,314.1 322.3,308.0 322.6,303.2 322.9,298.2 323.1,295.9 323.3,293.7 323.5,291.1 323.7,287.2 323.9,283.1 324.1,278.6 324.3,276.6 324.4,274.7 324.6,276.6 324.7,278.6 324.9,283.1 325.1,287.2 325.3,291.1 325.5,293.7 325.7,295.9 325.9,298.2 326.2,303.2 326.5,308.0 326.9,314.1 327.4,320.8 327.9,324.8 328.4,328.7 329.2,334.0 330.0,336.5 330.9,339.4 331.9,341.3 332.9,343.2 334.4,346.0 336.4,348.1 338.4,349.6" stroke="#1c2b8a" stroke-width="1.05" fill="none" stroke-linejoin="round"/>
<polyline points="317.1,348.8 319.1,347.4 321.1,345.2 322.6,342.5 323.6,340.6 324.6,338.6 325.5,335.8 326.3,333.3 327.1,328.0 327.6,324.1 328.1,320.1 328.6,313.3 329.0,307.3 329.3,302.5 329.6,297.5 329.8,295.2 330.0,293.0 330.2,290.4 330.4,286.5 330.6,282.3 330.8,277.8 331.0,275.9 331.1,274.0 331.3,275.9 331.4,277.8 331.6,282.3 331.8,286.5 332.0,290.4 332.2,293.0 332.4,295.2 332.6,297.5 332.9,302.5 333.2,307.3 333.6,313.3 334.1,320.1 334.6,324.1 335.1,328.0 335.9,333.3 336.7,335.8 337.6,338.6 338.6,340.6 339.6,342.5 341.1,345.2 343.1,347.4 345.1,348.8" stroke="#1c2b8a" stroke-width="1.05" fill="none" stroke-linejoin="round"/>
<polyline points="323.9,349.2 325.9,347.7 327.9,345.6 329.4,342.8 330.4,340.9 331.4,338.9 332.3,336.1 333.1,333.6 333.9,328.3 334.4,324.4 334.9,320.4 335.4,313.6 335.8,307.6 336.1,302.8 336.4,297.8 336.6,295.5 336.8,293.3 337.0,290.7 337.2,286.8 337.4,282.7 337.6,278.2 337.7,276.2 337.9,274.3 338.0,276.2 338.2,278.2 338.4,282.7 338.6,286.8 338.8,290.7 339.0,293.3 339.2,295.5 339.4,297.8 339.7,302.8 340.0,307.6 340.4,313.6 340.9,320.4 341.4,324.4 341.9,328.3 342.7,333.6 343.5,336.1 344.4,338.9 345.4,340.9 346.4,342.8 347.9,345.6 349.9,347.7 351.9,349.2" stroke="#1c2b8a" stroke-width="1.05" fill="none" stroke-linejoin="round"/>
<polyline points="330.6,348.9 332.6,347.4 334.6,345.3 336.1,342.5 337.1,340.6 338.1,338.7 339.0,335.9 339.8,333.4 340.6,328.1 341.1,324.1 341.6,320.2 342.1,313.4 342.5,307.4 342.8,302.5 343.1,297.5 343.3,295.2 343.5,293.0 343.7,290.4 343.9,286.6 344.1,282.4 344.3,277.9 344.4,275.9 344.6,274.0 344.7,275.9 344.9,277.9 345.1,282.4 345.3,286.6 345.5,290.4 345.7,293.0 345.9,295.2 346.1,297.5 346.4,302.5 346.7,307.4 347.1,313.4 347.6,320.2 348.1,324.1 348.6,328.1 349.4,333.4 350.2,335.9 351.1,338.7 352.1,340.6 353.1,342.5 354.6,345.3 356.6,347.4 358.6,348.9" stroke="#1c2b8a" stroke-width="1.05" fill="none" stroke-linejoin="round"/>
<polyline points="337.3,348.9 339.3,347.5 341.3,345.3 342.8,342.5 343.8,340.6 344.8,338.7 345.7,335.9 346.5,333.4 347.3,328.1 347.8,324.1 348.3,320.2 348.8,313.4 349.2,307.4 349.5,302.6 349.8,297.6 350.0,295.3 350.2,293.0 350.4,290.5 350.6,286.6 350.8,282.4 351.0,277.9 351.1,276.0 351.3,274.1 351.4,276.0 351.6,277.9 351.8,282.4 352.0,286.6 352.2,290.5 352.4,293.0 352.6,295.3 352.8,297.6 353.1,302.6 353.4,307.4 353.8,313.4 354.3,320.2 354.8,324.1 355.3,328.1 356.1,333.4 356.9,335.9 357.8,338.7 358.8,340.6 359.8,342.5 361.3,345.3 363.3,347.5 365.3,348.9" stroke="#1c2b8a" stroke-width="1.05" fill="none" stroke-linejoin="round"/>
<polyline points="344.0,349.4 346.0,348.0 348.0,345.8 349.5,343.0 350.5,341.1 351.5,339.2 352.4,336.4 353.2,333.9 354.0,328.6 354.5,324.6 355.0,320.7 355.5,313.9 355.9,307.9 356.2,303.1 356.5,298.1 356.7,295.8 356.9,293.5 357.1,290.9 357.3,287.1 357.5,282.9 357.7,278.4 357.9,276.5 358.0,274.5 358.2,276.5 358.3,278.4 358.5,282.9 358.7,287.1 358.9,290.9 359.1,293.5 359.3,295.8 359.5,298.1 359.8,303.1 360.1,307.9 360.5,313.9 361.0,320.7 361.5,324.6 362.0,328.6 362.8,333.9 363.6,336.4 364.5,339.2 365.5,341.1 366.5,343.0 368.0,345.8 370.0,348.0 372.0,349.4" stroke="#1c2b8a" stroke-width="1.05" fill="none" stroke-linejoin="round"/>
<polyline points="350.7,349.6 352.7,348.1 354.7,346.0 356.2,343.2 357.2,341.3 358.2,339.4 359.1,336.6 359.9,334.1 360.7,328.8 361.2,324.8 361.7,320.9 362.2,314.1 362.6,308.1 362.9,303.2 363.2,298.2 363.4,295.9 363.6,293.7 363.8,291.1 364.0,287.3 364.2,283.1 364.4,278.6 364.6,276.6 364.7,274.7 364.9,276.6 365.0,278.6 365.2,283.1 365.4,287.3 365.6,291.1 365.8,293.7 366.0,295.9 366.2,298.2 366.5,303.2 366.8,308.1 367.2,314.1 367.7,320.9 368.2,324.8 368.7,328.8 369.5,334.1 370.3,336.6 371.2,339.4 372.2,341.3 373.2,343.2 374.7,346.0 376.7,348.1 378.7,349.6" stroke="#1c2b8a" stroke-width="1.05" fill="none" stroke-linejoin="round"/>
<polyline points="357.4,348.6 359.4,347.2 361.4,345.0 362.9,342.2 363.9,340.4 364.9,338.4 365.8,335.6 366.6,333.1 367.4,327.8 367.9,323.9 368.4,319.9 368.9,313.1 369.3,307.1 369.6,302.3 369.9,297.3 370.1,295.0 370.3,292.7 370.5,290.2 370.7,286.3 370.9,282.1 371.1,277.6 371.3,275.7 371.4,273.8 371.6,275.7 371.7,277.6 371.9,282.1 372.1,286.3 372.3,290.2 372.5,292.7 372.7,295.0 372.9,297.3 373.2,302.3 373.5,307.1 373.9,313.1 374.4,319.9 374.9,323.9 375.4,327.8 376.2,333.1 377.0,335.6 377.9,338.4 378.9,340.4 379.9,342.2 381.4,345.0 383.4,347.2 385.4,348.6" stroke="#1c2b8a" stroke-width="1.05" fill="none" stroke-linejoin="round"/>
<polyline points="364.2,348.7 366.2,347.2 368.2,345.1 369.7,342.3 370.7,340.4 371.7,338.5 372.6,335.7 373.4,333.2 374.2,327.8 374.7,323.9 375.2,319.9 375.7,313.2 376.1,307.2 376.4,302.3 376.7,297.3 376.9,295.0 377.1,292.8 377.3,290.2 377.5,286.4 377.7,282.2 377.9,277.7 378.0,275.7 378.2,273.8 378.3,275.7 378.5,277.7 378.7,282.2 378.9,286.4 379.1,290.2 379.3,292.8 379.5,295.0 379.7,297.3 380.0,302.3 380.3,307.2 380.7,313.2 381.2,319.9 381.7,323.9 382.2,327.8 383.0,333.2 383.8,335.7 384.7,338.5 385.7,340.4 386.7,342.3 388.2,345.1 390.2,347.2 392.2,348.7" stroke="#1c2b8a" stroke-width="1.05" fill="none" stroke-linejoin="round"/>
<polyline points="370.9,349.4 372.9,348.0 374.9,345.8 376.4,343.0 377.4,341.2 378.4,339.2 379.3,336.4 380.1,333.9 380.9,328.6 381.4,324.7 381.9,320.7 382.4,313.9 382.8,307.9 383.1,303.1 383.4,298.1 383.6,295.8 383.8,293.5 384.0,291.0 384.2,287.1 384.4,282.9 384.6,278.4 384.7,276.5 384.9,274.6 385.0,276.5 385.2,278.4 385.4,282.9 385.6,287.1 385.8,291.0 386.0,293.5 386.2,295.8 386.4,298.1 386.7,303.1 387.0,307.9 387.4,313.9 387.9,320.7 388.4,324.7 388.9,328.6 389.7,333.9 390.5,336.4 391.4,339.2 392.4,341.2 393.4,343.0 394.9,345.8 396.9,348.0 398.9,349.4" stroke="#1c2b8a" stroke-width="1.05" fill="none" stroke-linejoin="round"/>
<polyline points="377.6,348.7 379.6,347.3 381.6,345.1 383.1,342.3 384.1,340.4 385.1,338.5 386.0,335.7 386.8,333.2 387.6,327.9 388.1,323.9 388.6,320.0 389.1,313.2 389.5,307.2 389.8,302.3 390.1,297.3 390.3,295.1 390.5,292.8 390.7,290.2 390.9,286.4 391.1,282.2 391.3,277.7 391.4,275.8 391.6,273.8 391.7,275.8 391.9,277.7 392.1,282.2 392.3,286.4 392.5,290.2 392.7,292.8 392.9,295.1 393.1,297.3 393.4,302.3 393.7,307.2 394.1,313.2 394.6,320.0 395.1,323.9 395.6,327.9 396.4,333.2 397.2,335.7 398.1,338.5 399.1,340.4 400.1,342.3 401.6,345.1 403.6,347.3 405.6,348.7" stroke="#1c2b8a" stroke-width="1.05" fill="none" stroke-linejoin="round"/>
<polyline points="384.3,348.5 386.3,347.1 388.3,344.9 389.8,342.1 390.8,340.2 391.8,338.3 392.7,335.5 393.5,333.0 394.3,327.7 394.8,323.7 395.3,319.8 395.8,313.0 396.2,307.0 396.5,302.1 396.8,297.1 397.0,294.9 397.2,292.6 397.4,290.0 397.6,286.2 397.8,282.0 398.0,277.5 398.2,275.6 398.3,273.6 398.5,275.6 398.6,277.5 398.8,282.0 399.0,286.2 399.2,290.0 399.4,292.6 399.6,294.9 399.8,297.1 400.1,302.1 400.4,307.0 400.8,313.0 401.3,319.8 401.8,323.7 402.3,327.7 403.1,333.0 403.9,335.5 404.8,338.3 405.8,340.2 406.8,342.1 408.3,344.9 410.3,347.1 412.3,348.5" stroke="#1c2b8a" stroke-width="1.05" fill="none" stroke-linejoin="round"/>
<polyline points="391.0,349.0 393.0,347.6 395.0,345.4 396.5,342.6 397.5,340.7 398.5,338.8 399.4,336.0 400.2,333.5 401.0,328.2 401.5,324.2 402.0,320.3 402.5,313.5 402.9,307.5 403.2,302.6 403.5,297.6 403.7,295.4 403.9,293.1 404.1,290.5 404.3,286.7 404.5,282.5 404.7,278.0 404.9,276.1 405.0,274.1 405.2,276.1 405.3,278.0 405.5,282.5 405.7,286.7 405.9,290.5 406.1,293.1 406.3,295.4 406.5,297.6 406.8,302.6 407.1,307.5 407.5,313.5 408.0,320.3 408.5,324.2 409.0,328.2 409.8,333.5 410.6,336.0 411.5,338.8 412.5,340.7 413.5,342.6 415.0,345.4 417.0,347.6 419.0,349.0" stroke="#1c2b8a" stroke-width="1.05" fill="none" stroke-linejoin="round"/>
<polyline points="397.8,349.3 399.8,347.8 401.8,345.7 403.2,342.9 404.2,341.0 405.2,339.0 406.1,336.2 406.9,333.7 407.8,328.4 408.2,324.5 408.8,320.5 409.2,313.7 409.6,307.7 409.9,302.9 410.2,297.9 410.4,295.6 410.6,293.4 410.9,290.8 411.1,286.9 411.2,282.8 411.4,278.3 411.6,276.3 411.8,274.4 411.9,276.3 412.1,278.3 412.2,282.8 412.4,286.9 412.6,290.8 412.9,293.4 413.1,295.6 413.2,297.9 413.6,302.9 413.9,307.7 414.2,313.7 414.8,320.5 415.2,324.5 415.8,328.4 416.6,333.7 417.4,336.2 418.2,339.0 419.2,341.0 420.2,342.9 421.8,345.7 423.8,347.8 425.8,349.3" stroke="#1c2b8a" stroke-width="1.05" fill="none" stroke-linejoin="round"/>
<polyline points="404.5,348.7 406.5,347.2 408.5,345.1 410.0,342.3 411.0,340.4 412.0,338.4 412.9,335.6 413.7,333.1 414.5,327.8 415.0,323.9 415.5,319.9 416.0,313.1 416.4,307.1 416.7,302.3 417.0,297.3 417.2,295.0 417.4,292.8 417.6,290.2 417.8,286.3 418.0,282.2 418.2,277.7 418.3,275.7 418.5,273.8 418.6,275.7 418.8,277.7 419.0,282.2 419.2,286.3 419.4,290.2 419.6,292.8 419.8,295.0 420.0,297.3 420.3,302.3 420.6,307.1 421.0,313.1 421.5,319.9 422.0,323.9 422.5,327.8 423.3,333.1 424.1,335.6 425.0,338.4 426.0,340.4 427.0,342.3 428.5,345.1 430.5,347.2 432.5,348.7" stroke="#1c2b8a" stroke-width="1.05" fill="none" stroke-linejoin="round"/>
<polyline points="411.2,349.3 413.2,347.8 415.2,345.7 416.7,342.9 417.7,341.0 418.7,339.0 419.6,336.2 420.4,333.7 421.2,328.4 421.7,324.5 422.2,320.5 422.7,313.7 423.1,307.7 423.4,302.9 423.7,297.9 423.9,295.6 424.1,293.4 424.3,290.8 424.5,286.9 424.7,282.8 424.9,278.3 425.0,276.3 425.2,274.4 425.3,276.3 425.5,278.3 425.7,282.8 425.9,286.9 426.1,290.8 426.3,293.4 426.5,295.6 426.7,297.9 427.0,302.9 427.3,307.7 427.7,313.7 428.2,320.5 428.7,324.5 429.2,328.4 430.0,333.7 430.8,336.2 431.7,339.0 432.7,341.0 433.7,342.9 435.2,345.7 437.2,347.8 439.2,349.3" stroke="#1c2b8a" stroke-width="1.05" fill="none" stroke-linejoin="round"/>
<polyline points="417.9,348.7 419.9,347.3 421.9,345.1 423.4,342.3 424.4,340.4 425.4,338.5 426.3,335.7 427.1,333.2 427.9,327.9 428.4,323.9 428.9,320.0 429.4,313.2 429.8,307.2 430.1,302.3 430.4,297.3 430.6,295.1 430.8,292.8 431.0,290.2 431.2,286.4 431.4,282.2 431.6,277.7 431.8,275.8 431.9,273.8 432.1,275.8 432.2,277.7 432.4,282.2 432.6,286.4 432.8,290.2 433.0,292.8 433.2,295.1 433.4,297.3 433.7,302.3 434.0,307.2 434.4,313.2 434.9,320.0 435.4,323.9 435.9,327.9 436.7,333.2 437.5,335.7 438.4,338.5 439.4,340.4 440.4,342.3 441.9,345.1 443.9,347.3 445.9,348.7" stroke="#1c2b8a" stroke-width="1.05" fill="none" stroke-linejoin="round"/>
<polyline points="424.6,349.5 426.6,348.0 428.6,345.8 430.1,343.1 431.1,341.2 432.1,339.2 433.0,336.4 433.8,333.9 434.6,328.6 435.1,324.7 435.6,320.7 436.1,313.9 436.5,307.9 436.8,303.1 437.1,298.1 437.3,295.8 437.5,293.6 437.7,291.0 437.9,287.1 438.1,282.9 438.3,278.4 438.5,276.5 438.6,274.6 438.8,276.5 438.9,278.4 439.1,282.9 439.3,287.1 439.5,291.0 439.7,293.6 439.9,295.8 440.1,298.1 440.4,303.1 440.7,307.9 441.1,313.9 441.6,320.7 442.1,324.7 442.6,328.6 443.4,333.9 444.2,336.4 445.1,339.2 446.1,341.2 447.1,343.1 448.6,345.8 450.6,348.0 452.6,349.5" stroke="#1c2b8a" stroke-width="1.05" fill="none" stroke-linejoin="round"/>
<polyline points="431.3,348.4 433.3,347.0 435.3,344.8 436.8,342.1 437.8,340.2 438.8,338.2 439.7,335.4 440.5,332.9 441.3,327.6 441.8,323.7 442.3,319.7 442.8,312.9 443.2,306.9 443.5,302.1 443.8,297.1 444.0,294.8 444.2,292.6 444.4,290.0 444.6,286.1 444.8,281.9 445.0,277.4 445.2,275.5 445.3,273.6 445.5,275.5 445.6,277.4 445.8,281.9 446.0,286.1 446.2,290.0 446.4,292.6 446.6,294.8 446.8,297.1 447.1,302.1 447.4,306.9 447.8,312.9 448.3,319.7 448.8,323.7 449.3,327.6 450.1,332.9 450.9,335.4 451.8,338.2 452.8,340.2 453.8,342.1 455.3,344.8 457.3,347.0 459.3,348.4" stroke="#1c2b8a" stroke-width="1.05" fill="none" stroke-linejoin="round"/>
<polyline points="438.1,349.0 440.1,347.5 442.1,345.4 443.6,342.6 444.6,340.7 445.6,338.8 446.5,335.9 447.3,333.4 448.1,328.1 448.6,324.2 449.1,320.2 449.6,313.4 450.0,307.4 450.3,302.6 450.6,297.6 450.8,295.3 451.0,293.1 451.2,290.5 451.4,286.6 451.6,282.5 451.8,278.0 451.9,276.0 452.1,274.1 452.2,276.0 452.4,278.0 452.6,282.5 452.8,286.6 453.0,290.5 453.2,293.1 453.4,295.3 453.6,297.6 453.9,302.6 454.2,307.4 454.6,313.4 455.1,320.2 455.6,324.2 456.1,328.1 456.9,333.4 457.7,335.9 458.6,338.8 459.6,340.7 460.6,342.6 462.1,345.4 464.1,347.5 466.1,349.0" stroke="#1c2b8a" stroke-width="1.05" fill="none" stroke-linejoin="round"/>
<polyline points="444.8,349.2 446.8,347.7 448.8,345.6 450.3,342.8 451.3,340.9 452.3,339.0 453.2,336.2 454.0,333.7 454.8,328.3 455.3,324.4 455.8,320.5 456.3,313.7 456.7,307.7 457.0,302.8 457.3,297.8 457.5,295.5 457.7,293.3 457.9,290.7 458.1,286.9 458.3,282.7 458.5,278.2 458.6,276.2 458.8,274.3 458.9,276.2 459.1,278.2 459.3,282.7 459.5,286.9 459.7,290.7 459.9,293.3 460.1,295.5 460.3,297.8 460.6,302.8 460.9,307.7 461.3,313.7 461.8,320.5 462.3,324.4 462.8,328.3 463.6,333.7 464.4,336.2 465.3,339.0 466.3,340.9 467.3,342.8 468.8,345.6 470.8,347.7 472.8,349.2" stroke="#1c2b8a" stroke-width="1.05" fill="none" stroke-linejoin="round"/>
<polyline points="451.5,349.2 453.5,347.8 455.5,345.6 457.0,342.8 458.0,340.9 459.0,339.0 459.9,336.2 460.7,333.7 461.5,328.4 462.0,324.4 462.5,320.5 463.0,313.7 463.4,307.7 463.7,302.9 464.0,297.9 464.2,295.6 464.4,293.3 464.6,290.8 464.8,286.9 465.0,282.7 465.2,278.2 465.3,276.3 465.5,274.4 465.6,276.3 465.8,278.2 466.0,282.7 466.2,286.9 466.4,290.8 466.6,293.3 466.8,295.6 467.0,297.9 467.3,302.9 467.6,307.7 468.0,313.7 468.5,320.5 469.0,324.4 469.5,328.4 470.3,333.7 471.1,336.2 472.0,339.0 473.0,340.9 474.0,342.8 475.5,345.6 477.5,347.8 479.5,349.2" stroke="#1c2b8a" stroke-width="1.05" fill="none" stroke-linejoin="round"/>
</g>
<rect x="206.2" y="265.8" width="296.1" height="96.7" fill="none" stroke="#231f20" stroke-width="0.9" />
<line x1="206.2" y1="275.4" x2="208.8" y2="275.4" stroke="#231f20" stroke-width="0.8" />
<text x="204.2" y="278.6" font-size="9" text-anchor="end" fill="#231f20" font-weight="normal" >20</text>
<line x1="206.2" y1="294.7" x2="208.8" y2="294.7" stroke="#231f20" stroke-width="0.8" />
<text x="204.2" y="297.9" font-size="9" text-anchor="end" fill="#231f20" font-weight="normal" >0</text>
<line x1="206.2" y1="314.0" x2="208.8" y2="314.0" stroke="#231f20" stroke-width="0.8" />
<text x="204.2" y="317.2" font-size="9" text-anchor="end" fill="#231f20" font-weight="normal" >-20</text>
<line x1="206.2" y1="333.3" x2="208.8" y2="333.3" stroke="#231f20" stroke-width="0.8" />
<text x="204.2" y="336.5" font-size="9" text-anchor="end" fill="#231f20" font-weight="normal" >-40</text>
<line x1="206.2" y1="352.6" x2="208.8" y2="352.6" stroke="#231f20" stroke-width="0.8" />
<text x="204.2" y="355.8" font-size="9" text-anchor="end" fill="#231f20" font-weight="normal" >-60</text>
<line x1="241.6" y1="362.5" x2="241.6" y2="360.0" stroke="#231f20" stroke-width="0.8" />
<line x1="289.0" y1="362.5" x2="289.0" y2="360.0" stroke="#231f20" stroke-width="0.8" />
<line x1="336.4" y1="362.5" x2="336.4" y2="360.0" stroke="#231f20" stroke-width="0.8" />
<line x1="383.8" y1="362.5" x2="383.8" y2="360.0" stroke="#231f20" stroke-width="0.8" />
<line x1="431.2" y1="362.5" x2="431.2" y2="360.0" stroke="#231f20" stroke-width="0.8" />
<line x1="478.6" y1="362.5" x2="478.6" y2="360.0" stroke="#231f20" stroke-width="0.8" />
<text x="0.0" y="0.0" font-size="9.5" text-anchor="middle" fill="#231f20" font-weight="normal" transform="translate(178.6,313.4) rotate(-90)" dominant-baseline="central">Power (dBm)</text>
<text x="171.3" y="372.0" font-size="13" text-anchor="start" fill="#000" font-weight="bold" >g</text>
<rect x="206.6" y="373.3" width="295.7" height="61.5" fill="none" stroke="#231f20" stroke-width="0.9" />
<line x1="207.1" y1="434.8" x2="502.3" y2="434.8" stroke="#8c8c8c" stroke-width="1.7" />
<line x1="206.6" y1="385.1" x2="209.2" y2="385.1" stroke="#231f20" stroke-width="0.8" />
<text x="204.2" y="388.3" font-size="9" text-anchor="end" fill="#231f20" font-weight="normal" >20%</text>
<line x1="206.6" y1="408.5" x2="209.2" y2="408.5" stroke="#231f20" stroke-width="0.8" />
<text x="204.2" y="411.7" font-size="9" text-anchor="end" fill="#231f20" font-weight="normal" >10%</text>
<line x1="206.6" y1="431.9" x2="209.2" y2="431.9" stroke="#231f20" stroke-width="0.8" />
<text x="204.2" y="435.1" font-size="9" text-anchor="end" fill="#231f20" font-weight="normal" >0</text>
<line x1="241.6" y1="434.8" x2="241.6" y2="432.3" stroke="#231f20" stroke-width="0.8" />
<line x1="289.0" y1="434.8" x2="289.0" y2="432.3" stroke="#231f20" stroke-width="0.8" />
<line x1="336.4" y1="434.8" x2="336.4" y2="432.3" stroke="#231f20" stroke-width="0.8" />
<line x1="383.8" y1="434.8" x2="383.8" y2="432.3" stroke="#231f20" stroke-width="0.8" />
<line x1="431.2" y1="434.8" x2="431.2" y2="432.3" stroke="#231f20" stroke-width="0.8" />
<line x1="478.6" y1="434.8" x2="478.6" y2="432.3" stroke="#231f20" stroke-width="0.8" />
<text x="0.0" y="0.0" font-size="9.8" text-anchor="middle" fill="#231f20" font-weight="normal" transform="translate(179.4,401.1) rotate(-90)" dominant-baseline="central">WPE</text>
<line x1="243.3" y1="387.1" x2="466.0" y2="387.1" stroke="#444" stroke-width="0.7" stroke-dasharray="2.2 1.5"/>
<circle cx="243.8" cy="390.8" r="1.7" fill="#1f6cc0"/>
<circle cx="250.5" cy="389.7" r="1.7" fill="#1f6cc0"/>
<circle cx="257.2" cy="390.8" r="1.7" fill="#1f6cc0"/>
<circle cx="264.0" cy="389.3" r="1.7" fill="#1f6cc0"/>
<circle cx="270.7" cy="387.7" r="1.7" fill="#1f6cc0"/>
<circle cx="277.4" cy="386.4" r="1.7" fill="#1f6cc0"/>
<circle cx="284.1" cy="385.8" r="1.7" fill="#1f6cc0"/>
<circle cx="290.8" cy="385.3" r="1.7" fill="#1f6cc0"/>
<circle cx="297.5" cy="385.5" r="1.7" fill="#1f6cc0"/>
<circle cx="304.3" cy="385.5" r="1.7" fill="#1f6cc0"/>
<circle cx="311.0" cy="385.3" r="1.7" fill="#1f6cc0"/>
<circle cx="317.7" cy="384.7" r="1.7" fill="#1f6cc0"/>
<circle cx="324.4" cy="383.6" r="1.7" fill="#1f6cc0"/>
<circle cx="331.1" cy="383.6" r="1.7" fill="#1f6cc0"/>
<circle cx="337.9" cy="384.7" r="1.7" fill="#1f6cc0"/>
<circle cx="344.6" cy="385.8" r="1.7" fill="#1f6cc0"/>
<circle cx="351.3" cy="386.4" r="1.7" fill="#1f6cc0"/>
<circle cx="358.0" cy="387.6" r="1.7" fill="#1f6cc0"/>
<circle cx="364.7" cy="384.5" r="1.7" fill="#1f6cc0"/>
<circle cx="371.4" cy="383.3" r="1.7" fill="#1f6cc0"/>
<circle cx="378.2" cy="382.5" r="1.7" fill="#1f6cc0"/>
<circle cx="384.9" cy="382.0" r="1.7" fill="#1f6cc0"/>
<circle cx="391.6" cy="382.0" r="1.7" fill="#1f6cc0"/>
<circle cx="398.3" cy="381.6" r="1.7" fill="#1f6cc0"/>
<circle cx="405.0" cy="381.6" r="1.7" fill="#1f6cc0"/>
<circle cx="411.8" cy="381.8" r="1.7" fill="#1f6cc0"/>
<circle cx="418.5" cy="381.6" r="1.7" fill="#1f6cc0"/>
<circle cx="425.2" cy="381.8" r="1.7" fill="#1f6cc0"/>
<circle cx="431.9" cy="382.0" r="1.7" fill="#1f6cc0"/>
<circle cx="438.6" cy="382.0" r="1.7" fill="#1f6cc0"/>
<circle cx="445.3" cy="382.3" r="1.7" fill="#1f6cc0"/>
<circle cx="452.1" cy="382.8" r="1.7" fill="#1f6cc0"/>
<circle cx="458.8" cy="383.3" r="1.7" fill="#1f6cc0"/>
<circle cx="465.5" cy="384.0" r="1.7" fill="#1f6cc0"/>
<polygon points="242.0,432.7 245.6,432.7 243.8,429.1" fill="#7a3a92" />
<polygon points="248.7,432.7 252.3,432.7 250.5,429.1" fill="#7a3a92" />
<polygon points="255.4,432.7 259.0,432.7 257.2,429.1" fill="#7a3a92" />
<polygon points="262.2,432.7 265.8,432.7 264.0,429.1" fill="#7a3a92" />
<polygon points="268.9,432.7 272.5,432.7 270.7,429.1" fill="#7a3a92" />
<polygon points="275.6,432.7 279.2,432.7 277.4,429.1" fill="#7a3a92" />
<polygon points="282.3,432.7 285.9,432.7 284.1,429.1" fill="#7a3a92" />
<polygon points="289.0,432.7 292.6,432.7 290.8,429.1" fill="#7a3a92" />
<polygon points="295.7,432.7 299.3,432.7 297.5,429.1" fill="#7a3a92" />
<polygon points="302.5,432.7 306.1,432.7 304.3,429.1" fill="#7a3a92" />
<polygon points="309.2,432.7 312.8,432.7 311.0,429.1" fill="#7a3a92" />
<polygon points="315.9,432.7 319.5,432.7 317.7,429.1" fill="#7a3a92" />
<polygon points="322.6,432.7 326.2,432.7 324.4,429.1" fill="#7a3a92" />
<polygon points="329.3,432.7 332.9,432.7 331.1,429.1" fill="#7a3a92" />
<polygon points="336.1,432.7 339.7,432.7 337.9,429.1" fill="#7a3a92" />
<polygon points="342.8,432.7 346.4,432.7 344.6,429.1" fill="#7a3a92" />
<polygon points="349.5,432.7 353.1,432.7 351.3,429.1" fill="#7a3a92" />
<polygon points="356.2,432.7 359.8,432.7 358.0,429.1" fill="#7a3a92" />
<polygon points="362.9,432.7 366.5,432.7 364.7,429.1" fill="#7a3a92" />
<polygon points="369.6,432.7 373.2,432.7 371.4,429.1" fill="#7a3a92" />
<polygon points="376.4,432.7 380.0,432.7 378.2,429.1" fill="#7a3a92" />
<polygon points="383.1,432.7 386.7,432.7 384.9,429.1" fill="#7a3a92" />
<polygon points="389.8,432.7 393.4,432.7 391.6,429.1" fill="#7a3a92" />
<polygon points="396.5,432.7 400.1,432.7 398.3,429.1" fill="#7a3a92" />
<polygon points="403.2,432.7 406.8,432.7 405.0,429.1" fill="#7a3a92" />
<polygon points="409.9,432.7 413.6,432.7 411.8,429.1" fill="#7a3a92" />
<polygon points="416.7,432.7 420.3,432.7 418.5,429.1" fill="#7a3a92" />
<polygon points="423.4,432.7 427.0,432.7 425.2,429.1" fill="#7a3a92" />
<polygon points="430.1,432.7 433.7,432.7 431.9,429.1" fill="#7a3a92" />
<polygon points="436.8,432.7 440.4,432.7 438.6,429.1" fill="#7a3a92" />
<polygon points="443.5,432.7 447.1,432.7 445.3,429.1" fill="#7a3a92" />
<polygon points="450.3,432.7 453.9,432.7 452.1,429.1" fill="#7a3a92" />
<polygon points="457.0,432.7 460.6,432.7 458.8,429.1" fill="#7a3a92" />
<polygon points="463.7,432.7 467.3,432.7 465.5,429.1" fill="#7a3a92" />
<polygon points="348.6,431.2 353.4,431.2 351.0,426.4" fill="#4aa6a0" />
<defs><linearGradient id="garr" x1="0" y1="1" x2="0" y2="0"><stop offset="0" stop-color="#fff"/><stop offset="1" stop-color="#b8b8b8"/></linearGradient><linearGradient id="garr2" x1="0" y1="0" x2="0" y2="1"><stop offset="0" stop-color="#fff"/><stop offset="1" stop-color="#b8b8b8"/></linearGradient></defs>
<polygon points="347.0,418.5 347.0,403.5 342.6,403.5 350.8,395.3 359.0,403.5 354.6,403.5 354.6,418.5" fill="url(#garr)" />
<line x1="373.7" y1="400.8" x2="388.2" y2="400.8" stroke="#444" stroke-width="0.7" stroke-dasharray="2.2 1.5"/>
<text x="392.5" y="404.0" font-size="8.6" text-anchor="start" fill="#231f20" font-weight="normal" >IL DFB (total)</text>
<circle cx="451.3" cy="401.1" r="1.7" fill="#1f6cc0"/>
<text x="459.3" y="404.0" font-size="8.6" text-anchor="start" fill="#231f20" font-weight="normal" >IL DFB</text>
<polygon points="377.8,417.6 382.6,417.6 380.2,412.8" fill="#4aa6a0" />
<text x="392.5" y="418.4" font-size="8.6" text-anchor="start" fill="#231f20" font-weight="normal" >Comb (total)</text>
<polygon points="449.5,417.4 453.1,417.4 451.3,413.8" fill="#7a3a92" />
<text x="459.3" y="418.4" font-size="8.6" text-anchor="start" fill="#231f20" font-weight="normal" >Comb line</text>
<text x="171.6" y="441.6" font-size="13" text-anchor="start" fill="#000" font-weight="bold" >h</text>
<rect x="206.3" y="445.3" width="296.0" height="59.0" fill="none" stroke="#231f20" stroke-width="0.9" />
<text x="201.4" y="507.7" font-size="9" text-anchor="end" fill="#231f20" font-weight="normal" >10</text>
<text x="201.6" y="503.9" font-size="5.8" text-anchor="start" fill="#231f20" font-weight="normal" >1</text>
<line x1="206.3" y1="489.6" x2="208.9" y2="489.6" stroke="#231f20" stroke-width="0.8" />
<text x="201.4" y="492.9" font-size="9" text-anchor="end" fill="#231f20" font-weight="normal" >10</text>
<text x="201.6" y="489.2" font-size="5.8" text-anchor="start" fill="#231f20" font-weight="normal" >2</text>
<line x1="206.3" y1="474.8" x2="208.9" y2="474.8" stroke="#231f20" stroke-width="0.8" />
<text x="201.4" y="478.2" font-size="9" text-anchor="end" fill="#231f20" font-weight="normal" >10</text>
<text x="201.6" y="474.4" font-size="5.8" text-anchor="start" fill="#231f20" font-weight="normal" >3</text>
<line x1="206.3" y1="460.1" x2="208.9" y2="460.1" stroke="#231f20" stroke-width="0.8" />
<text x="201.4" y="463.4" font-size="9" text-anchor="end" fill="#231f20" font-weight="normal" >10</text>
<text x="201.6" y="459.7" font-size="5.8" text-anchor="start" fill="#231f20" font-weight="normal" >4</text>
<text x="201.4" y="448.7" font-size="9" text-anchor="end" fill="#231f20" font-weight="normal" >10</text>
<text x="201.6" y="444.9" font-size="5.8" text-anchor="start" fill="#231f20" font-weight="normal" >5</text>
<line x1="206.3" y1="485.1" x2="502.3" y2="485.1" stroke="#777" stroke-width="0.6" stroke-dasharray="1.6 1.2"/>
<rect x="221.0" y="481.0" width="28.5" height="8.0" fill="#fff" stroke="none" stroke-width="0.8" />
<text x="222.0" y="488.3" font-size="9" text-anchor="start" fill="#231f20" font-weight="normal" >200 Hz</text>
<line x1="241.6" y1="504.3" x2="241.6" y2="501.8" stroke="#231f20" stroke-width="0.8" />
<line x1="289.0" y1="504.3" x2="289.0" y2="501.8" stroke="#231f20" stroke-width="0.8" />
<line x1="336.4" y1="504.3" x2="336.4" y2="501.8" stroke="#231f20" stroke-width="0.8" />
<line x1="383.8" y1="504.3" x2="383.8" y2="501.8" stroke="#231f20" stroke-width="0.8" />
<line x1="431.2" y1="504.3" x2="431.2" y2="501.8" stroke="#231f20" stroke-width="0.8" />
<line x1="478.6" y1="504.3" x2="478.6" y2="501.8" stroke="#231f20" stroke-width="0.8" />
<text x="241.6" y="515.8" font-size="9" text-anchor="middle" fill="#231f20" font-weight="normal" >1548</text>
<text x="289.0" y="515.8" font-size="9" text-anchor="middle" fill="#231f20" font-weight="normal" >1550</text>
<text x="336.4" y="515.8" font-size="9" text-anchor="middle" fill="#231f20" font-weight="normal" >1552</text>
<text x="383.8" y="515.8" font-size="9" text-anchor="middle" fill="#231f20" font-weight="normal" >1554</text>
<text x="431.2" y="515.8" font-size="9" text-anchor="middle" fill="#231f20" font-weight="normal" >1556</text>
<text x="478.6" y="515.8" font-size="9" text-anchor="middle" fill="#231f20" font-weight="normal" >1558</text>
<text x="352.8" y="526.6" font-size="9.55" text-anchor="middle" fill="#231f20" font-weight="normal" >Wavelength (nm)</text>
<text x="0.0" y="0.0" font-size="9.5" text-anchor="middle" fill="#231f20" font-weight="normal" transform="translate(178.4,475.8) rotate(-90)" dominant-baseline="central">Linewidth (Hz)</text>
<polygon points="281.8,495.2 285.4,495.2 283.6,491.6" fill="#7a3a92" />
<polygon points="288.6,499.4 292.2,499.4 290.4,495.8" fill="#7a3a92" />
<polygon points="295.3,501.6 298.9,501.6 297.1,498.0" fill="#7a3a92" />
<polygon points="302.1,505.1 305.7,505.1 303.9,501.5" fill="#7a3a92" />
<polygon points="308.8,504.0 312.4,504.0 310.6,500.4" fill="#7a3a92" />
<polygon points="315.6,504.4 319.2,504.4 317.4,500.8" fill="#7a3a92" />
<polygon points="322.3,503.8 325.9,503.8 324.1,500.2" fill="#7a3a92" />
<polygon points="329.1,504.9 332.7,504.9 330.9,501.3" fill="#7a3a92" />
<polygon points="335.8,498.5 339.4,498.5 337.6,494.9" fill="#7a3a92" />
<polygon points="342.6,497.0 346.2,497.0 344.4,493.4" fill="#7a3a92" />
<polygon points="349.3,497.4 352.9,497.4 351.1,493.8" fill="#7a3a92" />
<polygon points="356.1,495.7 359.7,495.7 357.9,492.1" fill="#7a3a92" />
<polygon points="362.8,495.7 366.4,495.7 364.6,492.1" fill="#7a3a92" />
<polygon points="369.6,497.0 373.2,497.0 371.4,493.4" fill="#7a3a92" />
<polygon points="376.3,497.4 379.9,497.4 378.1,493.8" fill="#7a3a92" />
<polygon points="383.1,497.2 386.7,497.2 384.9,493.6" fill="#7a3a92" />
<polygon points="389.8,495.7 393.4,495.7 391.6,492.1" fill="#7a3a92" />
<polygon points="396.6,492.8 400.2,492.8 398.4,489.2" fill="#7a3a92" />
<polygon points="403.3,492.4 406.9,492.4 405.1,488.8" fill="#7a3a92" />
<polygon points="410.1,491.7 413.7,491.7 411.9,488.1" fill="#7a3a92" />
<polygon points="416.8,491.3 420.4,491.3 418.6,487.7" fill="#7a3a92" />
<circle cx="283.6" cy="489.9" r="1.7" fill="#1f6cc0"/>
<circle cx="290.4" cy="494.1" r="1.7" fill="#1f6cc0"/>
<circle cx="297.1" cy="496.3" r="1.7" fill="#1f6cc0"/>
<circle cx="303.9" cy="499.8" r="1.7" fill="#1f6cc0"/>
<circle cx="310.6" cy="498.7" r="1.7" fill="#1f6cc0"/>
<circle cx="317.4" cy="499.1" r="1.7" fill="#1f6cc0"/>
<circle cx="324.1" cy="498.5" r="1.7" fill="#1f6cc0"/>
<circle cx="330.9" cy="499.6" r="1.7" fill="#1f6cc0"/>
<circle cx="337.6" cy="493.2" r="1.7" fill="#1f6cc0"/>
<circle cx="344.4" cy="491.7" r="1.7" fill="#1f6cc0"/>
<circle cx="351.1" cy="492.1" r="1.7" fill="#1f6cc0"/>
<circle cx="357.9" cy="490.4" r="1.7" fill="#1f6cc0"/>
<circle cx="364.6" cy="490.4" r="1.7" fill="#1f6cc0"/>
<circle cx="371.4" cy="491.7" r="1.7" fill="#1f6cc0"/>
<circle cx="378.1" cy="492.1" r="1.7" fill="#1f6cc0"/>
<circle cx="384.9" cy="491.9" r="1.7" fill="#1f6cc0"/>
<circle cx="391.6" cy="490.4" r="1.7" fill="#1f6cc0"/>
<circle cx="398.4" cy="487.5" r="1.7" fill="#1f6cc0"/>
<circle cx="405.1" cy="487.1" r="1.7" fill="#1f6cc0"/>
<circle cx="411.9" cy="486.4" r="1.7" fill="#1f6cc0"/>
<circle cx="418.6" cy="486.0" r="1.7" fill="#1f6cc0"/>
<polygon points="351.0,452.7 351.8,454.5 353.8,454.7 352.2,456.0 352.7,457.9 351.0,456.9 349.3,457.9 349.8,456.0 348.2,454.7 350.2,454.5" fill="#4aa6a0" />
<text x="358.7" y="459.0" font-size="8.6" text-anchor="start" fill="#231f20" font-weight="normal" >Pump laser, 20 kHz</text>
<polygon points="347.6,460.8 347.6,475.0 343.2,475.0 351.0,482.8 358.8,475.0 354.4,475.0 354.4,460.8" fill="url(#garr2)" />
<circle cx="451.3" cy="462.2" r="1.7" fill="#1f6cc0"/>
<text x="459.3" y="465.0" font-size="8.6" text-anchor="start" fill="#231f20" font-weight="normal" >IL DFB</text>
<polygon points="449.5,474.4 453.1,474.4 451.3,470.8" fill="#7a3a92" />
<text x="459.3" y="475.6" font-size="8.6" text-anchor="start" fill="#231f20" font-weight="normal" >Comb line</text>
<text x="517.4" y="269.4" font-size="13" text-anchor="start" fill="#000" font-weight="bold" >i</text>
<defs><clipPath id="clipI"><rect x="540.4" y="265.7" width="136.3" height="238.3"/></clipPath></defs>
<line x1="540.0" y1="427.0" x2="677.1" y2="427.0" stroke="#7ab6d8" stroke-width="0.8" stroke-dasharray="1 1.3"/>
<line x1="540.0" y1="451.5" x2="677.1" y2="451.5" stroke="#9a8ad0" stroke-width="0.8" stroke-dasharray="1 1.3"/>
<line x1="540.0" y1="471.8" x2="677.1" y2="471.8" stroke="#c06080" stroke-width="0.8" stroke-dasharray="1 1.3"/>
<g clip-path="url(#clipI)">
<polyline points="540.5,290.3 541.4,281.0 542.3,285.5 543.2,283.3 544.1,289.3 545.0,283.2 545.9,291.1 546.8,287.2 547.7,287.3 548.6,288.5 549.5,295.4 550.4,292.1 551.3,296.6 552.2,293.0 553.1,299.5 554.0,292.4 554.9,302.1 555.8,295.8 556.7,291.6 557.6,298.2 558.5,301.4 559.4,300.5 560.3,296.4 561.2,300.7 562.1,305.4 563.0,299.9 563.9,307.3 564.8,302.5 565.7,300.4 566.6,305.4 567.5,308.3 568.4,305.5 569.3,309.6 570.2,302.7 571.1,310.7 572.0,306.4 572.9,312.1 573.8,304.5 574.7,312.0 575.6,304.7 576.5,312.7 577.4,305.6 578.3,311.6 579.2,305.6 580.1,312.9 581.0,310.2 581.9,313.4 582.8,310.0 583.7,313.7 584.6,311.3 585.5,314.6 586.4,311.3 587.3,315.6 588.2,312.4 589.1,316.2 590.0,313.2 590.9,318.2 591.8,314.8 592.7,317.9 593.6,314.2 594.5,318.6 595.4,315.5 596.3,317.9 597.2,316.2 598.1,319.3 599.0,316.9 599.9,320.1 600.8,317.0 601.7,320.5 602.6,317.3 603.5,320.9 604.4,317.1 605.3,320.9 606.2,318.6 607.1,322.3 608.0,319.5 608.9,322.7 609.8,321.4 610.7,324.2 611.6,320.9 612.5,325.5 613.4,323.8 614.3,327.0 615.2,323.5 616.1,328.3 617.0,325.8 617.9,329.2 618.8,327.4 619.7,330.4 620.6,328.3 621.5,330.8 622.4,328.4 623.3,331.9 624.2,330.5 625.1,334.9 626.0,332.5 626.9,334.9 627.8,332.4 628.7,336.5 629.6,333.9 630.5,336.9 631.4,335.9 632.3,338.3 633.2,336.4 634.1,339.4 635.0,336.8 635.9,339.7 636.8,338.9 637.7,340.3 638.6,339.9 639.5,341.7 640.4,340.6 641.3,341.6 642.2,340.6 643.1,341.9 644.0,340.9 644.9,342.1 645.8,340.4 646.7,340.8 647.6,339.9 648.5,341.0 649.4,339.1 650.3,340.2 651.2,339.2 652.1,339.7 653.0,338.7 653.9,340.1 654.8,338.1 655.7,340.0 656.6,337.9 657.5,339.8 658.4,337.7 659.3,339.2 660.2,338.0 661.1,339.2 662.0,337.8 662.9,338.5 663.8,337.4 664.7,339.1 665.6,337.6 666.5,338.6 667.4,337.1 668.3,338.0 669.2,336.5 670.1,337.5 671.0,335.4 671.9,336.2 672.8,334.3 673.7,334.6 674.6,333.2 675.5,333.7 676.4,332.7" stroke="#8a8a8a" stroke-width="1.0" fill="none" />
<polyline points="540.5,293.2 541.5,279.9 542.5,291.6 543.5,289.9 544.5,298.2 545.5,278.6 546.5,310.2 547.5,289.4 548.5,300.0 549.5,306.8 550.5,290.0 551.5,309.7 552.5,300.4 553.5,314.3 554.5,321.1 555.5,294.5 556.5,329.1 557.5,315.6 558.5,320.4 559.5,323.6 560.5,331.8 561.5,323.6 562.5,338.4 563.5,301.9 564.5,342.8 565.5,334.4 566.5,344.1 567.5,333.3 568.5,346.7 569.5,340.4 570.5,349.8 571.5,314.5 572.5,356.5 573.5,341.3 574.5,356.2 575.5,348.3 576.5,335.2 577.5,348.9 578.5,364.1 579.5,339.3 580.5,338.0 581.5,333.3 582.5,366.8 583.5,357.1 584.5,365.1 585.5,359.7 586.5,371.8 587.5,363.4 588.5,367.7 589.5,360.7 590.5,347.9 591.5,363.4 592.5,375.3 593.5,305.9 594.5,366.5 595.5,351.0 596.5,380.8 597.5,349.1 598.5,385.4 599.5,377.2 600.5,364.4 601.5,375.9 602.5,387.7 603.5,379.2 604.5,394.0 605.5,371.0 606.5,389.4 607.5,385.4 608.5,396.6 609.5,384.2 610.5,369.9 611.5,363.7 612.5,395.7 613.5,389.0 614.5,396.5 615.5,389.1 616.5,405.0 617.5,370.8 618.5,405.7 619.5,391.0 620.5,362.4 621.5,383.0 622.5,389.8 623.5,387.8 624.5,374.9 625.5,396.8 626.5,412.3 627.5,399.4 628.5,403.5 629.5,405.8 630.5,414.1 631.5,407.8 632.5,415.3 633.5,364.8 634.5,416.5 635.5,412.0 636.5,415.9 637.5,372.3 638.5,423.1 639.5,403.3 640.5,420.7 641.5,415.3 642.5,426.5 643.5,413.3 644.5,421.1 645.5,416.7 646.5,412.8 647.5,416.4 648.5,425.8 649.5,417.0 650.5,421.5 651.5,415.0 652.5,423.6 653.5,411.6 654.5,423.2 655.5,415.5 656.5,428.1 657.5,416.2 658.5,429.4 659.5,415.3 660.5,416.3 661.5,415.6 662.5,413.9 663.5,406.9 664.5,422.9 665.5,411.3 666.5,427.0 667.5,414.0 668.5,420.6 669.5,414.8 670.5,420.3 671.5,413.0 672.5,418.0 673.5,405.8 674.5,415.1 675.5,401.5 676.5,419.0" stroke="#74b3d7" stroke-width="0.85" fill="none" />
<polyline points="540.5,291.7 541.8,278.4 543.1,295.3 544.4,289.4 545.7,302.3 547.0,300.6 548.3,312.2 549.6,305.0 550.9,315.0 552.2,309.2 553.5,319.9 554.8,312.9 556.1,322.5 557.4,320.6 558.7,331.5 560.0,324.1 561.3,332.0 562.6,325.7 563.9,338.6 565.2,334.0 566.5,342.4 567.8,335.3 569.1,344.5 570.4,339.7 571.7,348.6 573.0,345.6 574.3,351.9 575.6,349.8 576.9,360.7 578.2,352.1 579.5,364.3 580.8,355.4 582.1,365.2 583.4,355.4 584.7,367.9 586.0,362.1 587.3,369.5 588.6,361.2 589.9,369.3 591.2,367.1 592.5,375.7 593.8,368.8 595.1,376.1 596.4,372.9 597.7,380.0 599.0,375.0 600.3,385.3 601.6,381.7 602.9,389.3 604.2,384.1 605.5,389.0 606.8,386.8 608.1,393.7 609.4,388.7 610.7,394.9 612.0,366.2 613.3,397.1 614.6,390.6 615.9,399.8 617.2,394.3 618.5,402.1 619.8,396.9 621.1,405.2 622.4,401.1 623.7,407.1 625.0,402.9 626.3,411.4 627.6,401.4 628.9,409.4 630.2,407.5 631.5,414.7 632.8,407.4 634.1,413.3 635.4,408.8 636.7,420.1 638.0,412.3 639.3,419.1 640.6,413.4 641.9,423.2 643.2,415.6 644.5,420.6 645.8,416.7 647.1,423.0 648.4,415.9 649.7,421.8 651.0,417.1 652.3,421.4 653.6,418.1 654.9,408.9 656.2,416.9 657.5,423.0 658.8,414.8 660.1,423.0 661.4,417.9 662.7,421.0 664.0,418.0 665.3,421.4 666.6,417.2 667.9,424.5 669.2,376.2 670.5,419.2 671.8,411.7 673.1,419.8 674.4,410.4 675.7,416.2 677.0,407.2" stroke="#6aaed4" stroke-width="0.8" fill="none" opacity="0.8"/>
<polyline points="540.5,308.7 541.4,307.8 542.3,316.3 543.2,311.3 544.1,320.4 545.0,315.7 545.9,322.0 546.8,320.8 547.7,328.4 548.6,323.3 549.5,331.4 550.4,328.4 551.3,333.2 552.2,331.1 553.1,336.6 554.0,333.0 554.9,337.6 555.8,337.0 556.7,341.3 557.6,337.5 558.5,345.8 559.4,342.9 560.3,348.7 561.2,345.7 562.1,350.9 563.0,348.5 563.9,351.2 564.8,348.1 565.7,354.1 566.6,352.6 567.5,358.9 568.4,352.5 569.3,358.8 570.2,354.4 571.1,361.8 572.0,357.6 572.9,362.7 573.8,358.5 574.7,366.1 575.6,361.9 576.5,367.0 577.4,365.0 578.3,367.8 579.2,367.0 580.1,369.1 581.0,369.0 581.9,371.2 582.8,369.7 583.7,372.5 584.6,371.6 585.5,375.2 586.4,374.4 587.3,378.2 588.2,376.2 589.1,379.4 590.0,378.3 590.9,382.2 591.8,381.2 592.7,384.8 593.6,383.3 594.5,386.5 595.4,384.0 596.3,387.5 597.2,386.5 598.1,390.5 599.0,389.3 599.9,392.3 600.8,392.7 601.7,395.0 602.6,393.4 603.5,397.4 604.4,396.4 605.3,401.8 606.2,399.3 607.1,404.0 608.0,403.7 608.9,407.6 609.8,406.1 610.7,410.0 611.6,409.7 612.5,413.4 613.4,411.1 614.3,413.8 615.2,412.5 616.1,415.4 617.0,415.0 617.9,417.8 618.8,415.7 619.7,419.0 620.6,417.3 621.5,420.8 622.4,419.8 623.3,422.1 624.2,421.6 625.1,423.3 626.0,423.2 626.9,425.8 627.8,423.5 628.7,426.6 629.6,426.5 630.5,429.4 631.4,427.3 632.3,430.1 633.2,429.4 634.1,432.0 635.0,430.1 635.9,433.3 636.8,432.3 637.7,434.3 638.6,433.1 639.5,435.9 640.4,435.3 641.3,438.6 642.2,437.4 643.1,440.0 644.0,437.6 644.9,441.3 645.8,439.4 646.7,442.0 647.6,441.5 648.5,444.0 649.4,443.0 650.3,446.3 651.2,445.6 652.1,449.4 653.0,446.5 653.9,450.4 654.8,448.2 655.7,450.7 656.6,448.9 657.5,451.5 658.4,449.9 659.3,451.5 660.2,450.2 661.1,451.6 662.0,449.0 662.9,451.9 663.8,448.3 664.7,449.9 665.6,447.5 666.5,447.8 667.4,445.6 668.3,446.6 669.2,442.4 670.1,443.6 671.0,439.8 671.9,441.1 672.8,436.8 673.7,437.8 674.6,433.4 675.5,433.8 676.4,429.9" stroke="#9b85c9" stroke-width="0.9" fill="none" />
<polyline points="540.5,329.5 541.4,328.6 542.3,342.2 543.2,338.3 544.1,343.2 545.0,339.8 545.9,349.2 546.8,342.8 547.7,352.3 548.6,346.8 549.5,356.0 550.4,350.9 551.3,362.6 552.2,357.1 553.1,365.8 554.0,359.4 554.9,367.2 555.8,363.2 556.7,373.5 557.6,367.9 558.5,376.7 559.4,368.9 560.3,380.1 561.2,373.5 562.1,378.4 563.0,372.9 563.9,383.8 564.8,376.6 565.7,381.5 566.6,380.5 567.5,384.9 568.4,382.0 569.3,387.6 570.2,382.9 571.1,387.4 572.0,384.8 572.9,389.8 573.8,386.0 574.7,393.5 575.6,389.2 576.5,394.7 577.4,390.7 578.3,397.2 579.2,391.9 580.1,396.9 581.0,395.7 581.9,400.6 582.8,397.9 583.7,402.5 584.6,400.2 585.5,404.8 586.4,400.3 587.3,404.0 588.2,401.3 589.1,406.0 590.0,404.2 590.9,407.9 591.8,405.8 592.7,408.6 593.6,405.0 594.5,411.5 595.4,409.0 596.3,413.1 597.2,410.4 598.1,413.3 599.0,409.4 599.9,415.7 600.8,412.8 601.7,416.5 602.6,414.1 603.5,417.4 604.4,414.0 605.3,418.7 606.2,417.2 607.1,422.2 608.0,418.8 608.9,424.5 609.8,420.8 610.7,426.0 611.6,420.6 612.5,426.8 613.4,422.2 614.3,427.7 615.2,423.9 616.1,430.3 617.0,426.5 617.9,431.1 618.8,427.7 619.7,432.7 620.6,431.3 621.5,435.5 622.4,432.6 623.3,436.6 624.2,432.9 625.1,437.5 626.0,436.8 626.9,439.1 627.8,437.1 628.7,441.6 629.6,439.8 630.5,443.7 631.4,439.7 632.3,444.9 633.2,443.0 634.1,448.5 635.0,444.2 635.9,448.5 636.8,446.2 637.7,450.6 638.6,448.6 639.5,451.9 640.4,449.7 641.3,454.6 642.2,451.2 643.1,455.7 644.0,450.9 644.9,458.0 645.8,454.1 646.7,458.6 647.6,455.8 648.5,459.6 649.4,456.9 650.3,462.3 651.2,457.2 652.1,462.4 653.0,461.9 653.9,465.4 654.8,464.2 655.7,466.7 656.6,464.7 657.5,469.4 658.4,467.3 659.3,472.6 660.2,469.2 661.1,476.4 662.0,472.7 662.9,473.2 663.8,467.8 664.7,471.9 665.6,466.8 666.5,470.0 667.4,463.3 668.3,466.7 669.2,461.8 670.1,463.1 671.0,459.6 671.9,459.3 672.8,453.3 673.7,454.8 674.6,448.8 675.5,449.1 676.4,443.2" stroke="#2b3d80" stroke-width="1.1" fill="none" />
<polyline points="540.5,327.2 541.4,332.1 542.3,343.0 543.2,339.3 544.1,346.0 545.0,341.3 545.9,347.1 546.8,344.1 547.7,350.6 548.6,348.5 549.5,355.0 550.4,354.5 551.3,361.0 552.2,355.0 553.1,363.7 554.0,361.7 554.9,369.5 555.8,361.2 556.7,372.4 557.6,367.2 558.5,377.6 559.4,372.2 560.3,380.2 561.2,373.7 562.1,378.7 563.0,376.4 563.9,381.3 564.8,374.7 565.7,381.7 566.6,379.3 567.5,384.9 568.4,381.7 569.3,386.4 570.2,384.5 571.1,386.9 572.0,386.1 572.9,390.8 573.8,387.5 574.7,391.7 575.6,389.0 576.5,394.1 577.4,391.9 578.3,397.2 579.2,392.7 580.1,397.6 581.0,395.1 581.9,400.4 582.8,396.2 583.7,402.9 584.6,399.6 585.5,405.1 586.4,401.5 587.3,404.9 588.2,401.0 589.1,405.5 590.0,403.3 590.9,406.6 591.8,404.2 592.7,410.2 593.6,405.9 594.5,412.0 595.4,408.1 596.3,412.9 597.2,408.7 598.1,414.0 599.0,410.7 599.9,416.4 600.8,411.0 601.7,416.8 602.6,413.4 603.5,417.2 604.4,414.8 605.3,420.4 606.2,415.6 607.1,422.5 608.0,419.1 608.9,422.8 609.8,419.6 610.7,423.4 611.6,421.8 612.5,425.3 613.4,424.3 614.3,426.6 615.2,424.1 616.1,428.4 617.0,427.2 617.9,430.9 618.8,427.3 619.7,431.8 620.6,430.2 621.5,434.9 622.4,430.8 623.3,437.5 624.2,432.7 625.1,437.8 626.0,435.7 626.9,439.8 627.8,436.2 628.7,443.3 629.6,440.1 630.5,442.9 631.4,441.7 632.3,444.8 633.2,442.7 634.1,447.6 635.0,445.2 635.9,447.7 636.8,446.3 637.7,450.3 638.6,447.4 639.5,453.5 640.4,448.6 641.3,453.8 642.2,450.4 643.1,455.8 644.0,453.5 644.9,457.9 645.8,453.0 646.7,459.4 647.6,454.5 648.5,459.6 649.4,457.2 650.3,460.3 651.2,458.0 652.1,461.8 653.0,461.7 653.9,464.7 654.8,463.9 655.7,467.6 656.6,466.7 657.5,469.1 658.4,468.9 659.3,471.8 660.2,470.8 661.1,474.1 662.0,470.5 662.9,474.4 663.8,470.0 664.7,470.9 665.6,467.0 666.5,468.8 667.4,465.2 668.3,467.7 669.2,460.3 670.1,464.2 671.0,459.3 671.9,459.2 672.8,454.7 673.7,454.1 674.6,448.5 675.5,449.7 676.4,443.0" stroke="#b3345a" stroke-width="1.1" fill="none" />
</g>
<rect x="562.5" y="422.0" width="30.0" height="9.0" fill="#fff" stroke="none" stroke-width="0.8" />
<text x="563.8" y="430.3" font-size="8.8" text-anchor="start" fill="#231f20" font-weight="normal" >11.2 dB</text>
<rect x="562.5" y="447.0" width="27.0" height="9.0" fill="#fff" stroke="none" stroke-width="0.8" />
<text x="563.5" y="454.8" font-size="8.8" text-anchor="start" fill="#231f20" font-weight="normal" >4.7 dB</text>
<rect x="562.5" y="467.0" width="27.0" height="9.0" fill="#fff" stroke="none" stroke-width="0.8" />
<text x="564.0" y="475.1" font-size="8.8" text-anchor="start" fill="#231f20" font-weight="normal" >~ 0 dB</text>
<line x1="600.8" y1="432.2" x2="600.8" y2="469.6" stroke="#222" stroke-width="0.7" />
<polygon points="599.4,433.4 602.2,433.4 600.8,431.2" fill="#222" />
<polygon points="599.4,468.4 602.2,468.4 600.8,470.6" fill="#222" />
<line x1="599.4" y1="431.2" x2="602.2" y2="431.2" stroke="#222" stroke-width="0.5" />
<line x1="599.4" y1="470.6" x2="602.2" y2="470.6" stroke="#222" stroke-width="0.5" />
<line x1="593.1" y1="455.4" x2="593.1" y2="469.6" stroke="#222" stroke-width="0.7" />
<polygon points="591.7,456.6 594.5,456.6 593.1,454.4" fill="#222" />
<polygon points="591.7,468.4 594.5,468.4 593.1,470.6" fill="#222" />
<line x1="591.7" y1="454.4" x2="594.5" y2="454.4" stroke="#222" stroke-width="0.5" />
<line x1="591.7" y1="470.6" x2="594.5" y2="470.6" stroke="#222" stroke-width="0.5" />
<rect x="540.0" y="265.3" width="137.1" height="239.1" fill="none" stroke="#5a5657" stroke-width="1.0" />
<text x="533.9" y="507.9" font-size="9" text-anchor="end" fill="#231f20" font-weight="normal" >10</text>
<text x="534.1" y="504.0" font-size="5.8" text-anchor="start" fill="#231f20" font-weight="normal" >0</text>
<line x1="540.0" y1="492.4" x2="541.4" y2="492.4" stroke="#231f20" stroke-width="0.5" />
<line x1="540.0" y1="485.4" x2="541.4" y2="485.4" stroke="#231f20" stroke-width="0.5" />
<line x1="540.0" y1="480.4" x2="541.4" y2="480.4" stroke="#231f20" stroke-width="0.5" />
<line x1="540.0" y1="476.5" x2="541.4" y2="476.5" stroke="#231f20" stroke-width="0.5" />
<line x1="540.0" y1="473.4" x2="541.4" y2="473.4" stroke="#231f20" stroke-width="0.5" />
<line x1="540.0" y1="470.7" x2="541.4" y2="470.7" stroke="#231f20" stroke-width="0.5" />
<line x1="540.0" y1="468.4" x2="541.4" y2="468.4" stroke="#231f20" stroke-width="0.5" />
<line x1="540.0" y1="466.4" x2="541.4" y2="466.4" stroke="#231f20" stroke-width="0.5" />
<line x1="540.0" y1="464.5" x2="542.6" y2="464.5" stroke="#231f20" stroke-width="0.8" />
<text x="533.9" y="468.0" font-size="9" text-anchor="end" fill="#231f20" font-weight="normal" >10</text>
<text x="534.1" y="464.1" font-size="5.8" text-anchor="start" fill="#231f20" font-weight="normal" >1</text>
<line x1="540.0" y1="452.6" x2="541.4" y2="452.6" stroke="#231f20" stroke-width="0.5" />
<line x1="540.0" y1="445.5" x2="541.4" y2="445.5" stroke="#231f20" stroke-width="0.5" />
<line x1="540.0" y1="440.6" x2="541.4" y2="440.6" stroke="#231f20" stroke-width="0.5" />
<line x1="540.0" y1="436.7" x2="541.4" y2="436.7" stroke="#231f20" stroke-width="0.5" />
<line x1="540.0" y1="433.5" x2="541.4" y2="433.5" stroke="#231f20" stroke-width="0.5" />
<line x1="540.0" y1="430.9" x2="541.4" y2="430.9" stroke="#231f20" stroke-width="0.5" />
<line x1="540.0" y1="428.6" x2="541.4" y2="428.6" stroke="#231f20" stroke-width="0.5" />
<line x1="540.0" y1="426.5" x2="541.4" y2="426.5" stroke="#231f20" stroke-width="0.5" />
<line x1="540.0" y1="424.7" x2="542.6" y2="424.7" stroke="#231f20" stroke-width="0.8" />
<text x="533.9" y="428.2" font-size="9" text-anchor="end" fill="#231f20" font-weight="normal" >10</text>
<text x="534.1" y="424.3" font-size="5.8" text-anchor="start" fill="#231f20" font-weight="normal" >2</text>
<line x1="540.0" y1="412.7" x2="541.4" y2="412.7" stroke="#231f20" stroke-width="0.5" />
<line x1="540.0" y1="405.7" x2="541.4" y2="405.7" stroke="#231f20" stroke-width="0.5" />
<line x1="540.0" y1="400.7" x2="541.4" y2="400.7" stroke="#231f20" stroke-width="0.5" />
<line x1="540.0" y1="396.8" x2="541.4" y2="396.8" stroke="#231f20" stroke-width="0.5" />
<line x1="540.0" y1="393.7" x2="541.4" y2="393.7" stroke="#231f20" stroke-width="0.5" />
<line x1="540.0" y1="391.0" x2="541.4" y2="391.0" stroke="#231f20" stroke-width="0.5" />
<line x1="540.0" y1="388.7" x2="541.4" y2="388.7" stroke="#231f20" stroke-width="0.5" />
<line x1="540.0" y1="386.7" x2="541.4" y2="386.7" stroke="#231f20" stroke-width="0.5" />
<line x1="540.0" y1="384.8" x2="542.6" y2="384.8" stroke="#231f20" stroke-width="0.8" />
<text x="533.9" y="388.3" font-size="9" text-anchor="end" fill="#231f20" font-weight="normal" >10</text>
<text x="534.1" y="384.4" font-size="5.8" text-anchor="start" fill="#231f20" font-weight="normal" >3</text>
<line x1="540.0" y1="372.9" x2="541.4" y2="372.9" stroke="#231f20" stroke-width="0.5" />
<line x1="540.0" y1="365.8" x2="541.4" y2="365.8" stroke="#231f20" stroke-width="0.5" />
<line x1="540.0" y1="360.9" x2="541.4" y2="360.9" stroke="#231f20" stroke-width="0.5" />
<line x1="540.0" y1="357.0" x2="541.4" y2="357.0" stroke="#231f20" stroke-width="0.5" />
<line x1="540.0" y1="353.8" x2="541.4" y2="353.8" stroke="#231f20" stroke-width="0.5" />
<line x1="540.0" y1="351.2" x2="541.4" y2="351.2" stroke="#231f20" stroke-width="0.5" />
<line x1="540.0" y1="348.9" x2="541.4" y2="348.9" stroke="#231f20" stroke-width="0.5" />
<line x1="540.0" y1="346.8" x2="541.4" y2="346.8" stroke="#231f20" stroke-width="0.5" />
<line x1="540.0" y1="345.0" x2="542.6" y2="345.0" stroke="#231f20" stroke-width="0.8" />
<text x="533.9" y="348.5" font-size="9" text-anchor="end" fill="#231f20" font-weight="normal" >10</text>
<text x="534.1" y="344.6" font-size="5.8" text-anchor="start" fill="#231f20" font-weight="normal" >4</text>
<line x1="540.0" y1="333.0" x2="541.4" y2="333.0" stroke="#231f20" stroke-width="0.5" />
<line x1="540.0" y1="326.0" x2="541.4" y2="326.0" stroke="#231f20" stroke-width="0.5" />
<line x1="540.0" y1="321.0" x2="541.4" y2="321.0" stroke="#231f20" stroke-width="0.5" />
<line x1="540.0" y1="317.1" x2="541.4" y2="317.1" stroke="#231f20" stroke-width="0.5" />
<line x1="540.0" y1="314.0" x2="541.4" y2="314.0" stroke="#231f20" stroke-width="0.5" />
<line x1="540.0" y1="311.3" x2="541.4" y2="311.3" stroke="#231f20" stroke-width="0.5" />
<line x1="540.0" y1="309.0" x2="541.4" y2="309.0" stroke="#231f20" stroke-width="0.5" />
<line x1="540.0" y1="307.0" x2="541.4" y2="307.0" stroke="#231f20" stroke-width="0.5" />
<line x1="540.0" y1="305.1" x2="542.6" y2="305.1" stroke="#231f20" stroke-width="0.8" />
<text x="533.9" y="308.6" font-size="9" text-anchor="end" fill="#231f20" font-weight="normal" >10</text>
<text x="534.1" y="304.8" font-size="5.8" text-anchor="start" fill="#231f20" font-weight="normal" >5</text>
<line x1="540.0" y1="293.2" x2="541.4" y2="293.2" stroke="#231f20" stroke-width="0.5" />
<line x1="540.0" y1="286.1" x2="541.4" y2="286.1" stroke="#231f20" stroke-width="0.5" />
<line x1="540.0" y1="281.2" x2="541.4" y2="281.2" stroke="#231f20" stroke-width="0.5" />
<line x1="540.0" y1="277.3" x2="541.4" y2="277.3" stroke="#231f20" stroke-width="0.5" />
<line x1="540.0" y1="274.1" x2="541.4" y2="274.1" stroke="#231f20" stroke-width="0.5" />
<line x1="540.0" y1="271.5" x2="541.4" y2="271.5" stroke="#231f20" stroke-width="0.5" />
<line x1="540.0" y1="269.2" x2="541.4" y2="269.2" stroke="#231f20" stroke-width="0.5" />
<line x1="540.0" y1="267.1" x2="541.4" y2="267.1" stroke="#231f20" stroke-width="0.5" />
<text x="533.9" y="268.8" font-size="9" text-anchor="end" fill="#231f20" font-weight="normal" >10</text>
<text x="534.1" y="264.9" font-size="5.8" text-anchor="start" fill="#231f20" font-weight="normal" >6</text>
<text x="537.2" y="514.5" font-size="9" text-anchor="middle" fill="#231f20" font-weight="normal" >10</text>
<text x="541.9" y="510.6" font-size="5.8" text-anchor="start" fill="#231f20" font-weight="normal" >3</text>
<line x1="550.3" y1="504.4" x2="550.3" y2="503.0" stroke="#231f20" stroke-width="0.5" />
<line x1="556.4" y1="504.4" x2="556.4" y2="503.0" stroke="#231f20" stroke-width="0.5" />
<line x1="560.7" y1="504.4" x2="560.7" y2="503.0" stroke="#231f20" stroke-width="0.5" />
<line x1="564.0" y1="504.4" x2="564.0" y2="503.0" stroke="#231f20" stroke-width="0.5" />
<line x1="566.7" y1="504.4" x2="566.7" y2="503.0" stroke="#231f20" stroke-width="0.5" />
<line x1="569.0" y1="504.4" x2="569.0" y2="503.0" stroke="#231f20" stroke-width="0.5" />
<line x1="571.0" y1="504.4" x2="571.0" y2="503.0" stroke="#231f20" stroke-width="0.5" />
<line x1="572.7" y1="504.4" x2="572.7" y2="503.0" stroke="#231f20" stroke-width="0.5" />
<line x1="574.3" y1="504.4" x2="574.3" y2="501.8" stroke="#231f20" stroke-width="0.8" />
<text x="571.5" y="514.5" font-size="9" text-anchor="middle" fill="#231f20" font-weight="normal" >10</text>
<text x="576.2" y="510.6" font-size="5.8" text-anchor="start" fill="#231f20" font-weight="normal" >4</text>
<line x1="584.6" y1="504.4" x2="584.6" y2="503.0" stroke="#231f20" stroke-width="0.5" />
<line x1="590.7" y1="504.4" x2="590.7" y2="503.0" stroke="#231f20" stroke-width="0.5" />
<line x1="595.0" y1="504.4" x2="595.0" y2="503.0" stroke="#231f20" stroke-width="0.5" />
<line x1="598.3" y1="504.4" x2="598.3" y2="503.0" stroke="#231f20" stroke-width="0.5" />
<line x1="601.0" y1="504.4" x2="601.0" y2="503.0" stroke="#231f20" stroke-width="0.5" />
<line x1="603.3" y1="504.4" x2="603.3" y2="503.0" stroke="#231f20" stroke-width="0.5" />
<line x1="605.3" y1="504.4" x2="605.3" y2="503.0" stroke="#231f20" stroke-width="0.5" />
<line x1="607.0" y1="504.4" x2="607.0" y2="503.0" stroke="#231f20" stroke-width="0.5" />
<line x1="608.6" y1="504.4" x2="608.6" y2="501.8" stroke="#231f20" stroke-width="0.8" />
<text x="605.8" y="514.5" font-size="9" text-anchor="middle" fill="#231f20" font-weight="normal" >10</text>
<text x="610.5" y="510.6" font-size="5.8" text-anchor="start" fill="#231f20" font-weight="normal" >5</text>
<line x1="618.9" y1="504.4" x2="618.9" y2="503.0" stroke="#231f20" stroke-width="0.5" />
<line x1="625.0" y1="504.4" x2="625.0" y2="503.0" stroke="#231f20" stroke-width="0.5" />
<line x1="629.3" y1="504.4" x2="629.3" y2="503.0" stroke="#231f20" stroke-width="0.5" />
<line x1="632.6" y1="504.4" x2="632.6" y2="503.0" stroke="#231f20" stroke-width="0.5" />
<line x1="635.3" y1="504.4" x2="635.3" y2="503.0" stroke="#231f20" stroke-width="0.5" />
<line x1="637.6" y1="504.4" x2="637.6" y2="503.0" stroke="#231f20" stroke-width="0.5" />
<line x1="639.6" y1="504.4" x2="639.6" y2="503.0" stroke="#231f20" stroke-width="0.5" />
<line x1="641.3" y1="504.4" x2="641.3" y2="503.0" stroke="#231f20" stroke-width="0.5" />
<line x1="642.9" y1="504.4" x2="642.9" y2="501.8" stroke="#231f20" stroke-width="0.8" />
<text x="640.1" y="514.5" font-size="9" text-anchor="middle" fill="#231f20" font-weight="normal" >10</text>
<text x="644.8" y="510.6" font-size="5.8" text-anchor="start" fill="#231f20" font-weight="normal" >6</text>
<line x1="653.2" y1="504.4" x2="653.2" y2="503.0" stroke="#231f20" stroke-width="0.5" />
<line x1="659.3" y1="504.4" x2="659.3" y2="503.0" stroke="#231f20" stroke-width="0.5" />
<line x1="663.6" y1="504.4" x2="663.6" y2="503.0" stroke="#231f20" stroke-width="0.5" />
<line x1="666.9" y1="504.4" x2="666.9" y2="503.0" stroke="#231f20" stroke-width="0.5" />
<line x1="669.6" y1="504.4" x2="669.6" y2="503.0" stroke="#231f20" stroke-width="0.5" />
<line x1="671.9" y1="504.4" x2="671.9" y2="503.0" stroke="#231f20" stroke-width="0.5" />
<line x1="673.9" y1="504.4" x2="673.9" y2="503.0" stroke="#231f20" stroke-width="0.5" />
<line x1="675.6" y1="504.4" x2="675.6" y2="503.0" stroke="#231f20" stroke-width="0.5" />
<text x="674.4" y="514.5" font-size="9" text-anchor="middle" fill="#231f20" font-weight="normal" >10</text>
<text x="679.1" y="510.6" font-size="5.8" text-anchor="start" fill="#231f20" font-weight="normal" >7</text>
<text x="611.8" y="526.6" font-size="9.55" text-anchor="middle" fill="#231f20" font-weight="normal" >Offset frequency (Hz)</text>
<text x="0.0" y="0.0" font-size="9.5" text-anchor="middle" fill="#231f20" font-weight="normal" transform="translate(516.6,385.5) rotate(-90)" dominant-baseline="central">Frequency noise (Hz<tspan font-size="6.2" dy="-3">2</tspan><tspan dy="3">/Hz)</tspan></text>
<line x1="575.7" y1="275.7" x2="585.9" y2="275.7" stroke="#2b3d80" stroke-width="1.3" />
<text x="589.7" y="278.8" font-size="8.8" text-anchor="start" fill="#231f20" font-weight="normal" >Comb line</text>
<line x1="575.7" y1="285.9" x2="585.9" y2="285.9" stroke="#b3345a" stroke-width="1.3" />
<text x="589.7" y="289.0" font-size="8.8" text-anchor="start" fill="#231f20" font-weight="normal" >IL DFB</text>
<line x1="636.4" y1="275.7" x2="646.6" y2="275.7" stroke="#8e8e8e" stroke-width="1.3" />
<text x="650.2" y="278.8" font-size="8.8" text-anchor="start" fill="#231f20" font-weight="normal" >DFB</text>
<line x1="636.4" y1="285.9" x2="646.6" y2="285.9" stroke="#72b2d6" stroke-width="1.3" />
<text x="650.2" y="289.0" font-size="8.8" text-anchor="start" fill="#231f20" font-weight="normal" >SOA</text>
<line x1="636.4" y1="298.2" x2="646.6" y2="298.2" stroke="#9b85c9" stroke-width="1.3" />
<text x="650.2" y="301.3" font-size="8.8" text-anchor="start" fill="#231f20" font-weight="normal" >EDFA</text>
</svg>
</body></html>
